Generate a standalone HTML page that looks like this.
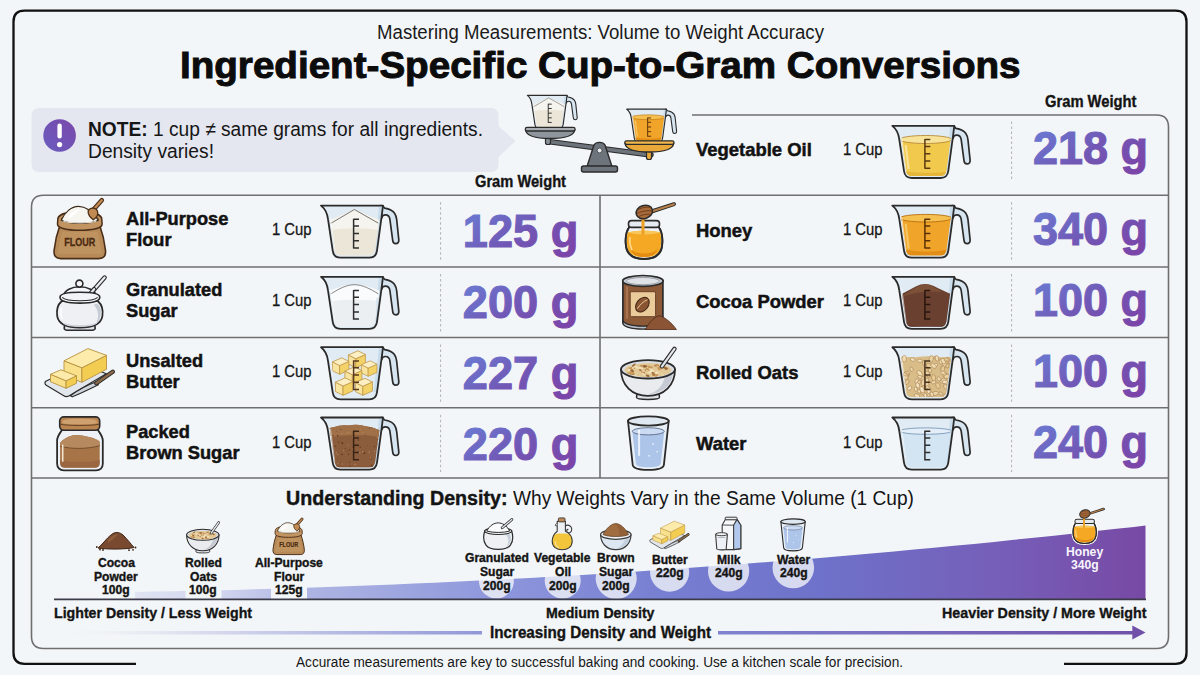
<!DOCTYPE html>
<html><head><meta charset="utf-8"><style>
html,body{margin:0;padding:0;}
body{width:1200px;height:675px;overflow:hidden;background:#f3f6f8;position:relative;font-family:"Liberation Sans",sans-serif;}
.abs{position:absolute;left:0;top:0;}
.t{position:absolute;white-space:nowrap;line-height:normal;transform-origin:0 0;}
</style></head><body>
<svg class="abs" width="1200" height="675" viewBox="0 0 1200 675">
<path d="M136 663.8 L24.5 663.8 Q13.5 663.8 13.5 652.8 L13.5 21.7 Q13.5 10.7 24.5 10.7 L1175.5 10.7 Q1186.5 10.7 1186.5 21.7 L1186.5 652.8 Q1186.5 663.8 1175.5 663.8 L1064 663.8" fill="none" stroke="#111" stroke-width="2.3"/>
<path d="M600 195.2 L43.5 195.2 Q31.5 195.2 31.5 207.2 L31.5 636.5 Q31.5 648.5 43.5 648.5 L1156.5 648.5 Q1168.5 648.5 1168.5 636.5 L1168.5 127 Q1168.5 115 1156.5 115 L692 115" fill="none" stroke="#6f6f6f" stroke-width="1.6"/>
<path d="M600 195.2 L1168.5 195.2 M31.5 267 L1168.5 267 M31.5 337.5 L1168.5 337.5 M31.5 407.8 L1168.5 407.8 M31.5 478 L1168.5 478 M600 195 L600 478" fill="none" stroke="#6f6f6f" stroke-width="1.6"/>
<g stroke="#b0b0b0" stroke-width="1" stroke-dasharray="2.5 2.5">
<path d="M1011.6 121.5 L1011.6 180"/>
<path d="M440.6 202.2 L440.6 261"/><path d="M1011.6 202.2 L1011.6 261"/><path d="M440.6 274 L440.6 331.5"/><path d="M1011.6 274 L1011.6 331.5"/><path d="M440.6 344.5 L440.6 401.8"/><path d="M1011.6 344.5 L1011.6 401.8"/><path d="M440.6 414.8 L440.6 472"/><path d="M1011.6 414.8 L1011.6 472"/>
</g>
</svg>
<svg class="abs" width="1200" height="675" viewBox="0 0 1200 675">
<defs><linearGradient id="ng" x1="0" y1="1" x2="1" y2="0"><stop offset="0" stop-color="#6a5cc0"/><stop offset="1" stop-color="#7a48aa"/></linearGradient></defs>
<path d="M39.5 108 L490.5 108 Q498.5 108 498.5 116 L498.5 126 L515.5 141 L498.5 157 L498.5 164 Q498.5 172 490.5 172 L39.5 172 Q31.5 172 31.5 164 L31.5 116 Q31.5 108 39.5 108 Z" fill="#e4e7f0"/>
<circle cx="59.6" cy="135.5" r="16.3" fill="url(#ng)"/>
<rect x="57.4" y="123.5" width="4.4" height="15" rx="2.2" fill="#fff"/>
<circle cx="59.6" cy="144.6" r="2.6" fill="#fff"/>
</svg>
<svg class="abs" width="1200" height="675" viewBox="0 0 1200 675"><path d="M548,141.5 L651,155" stroke="#2b2b2b" stroke-width="5.6" stroke-linecap="round"/><path d="M548,141.5 L651,155" stroke="#6e747c" stroke-width="3.4" stroke-linecap="round"/><rect x="545.5" y="136" width="5" height="8.5" rx="2" fill="#8a9098" stroke="#2b2b2b" stroke-width="1.2"/><rect x="646.5" y="150" width="5" height="9.5" rx="2" fill="#e8a838" stroke="#2b2b2b" stroke-width="1.2"/><path d="M594,145 C596,141.5 603,141.5 605,145 L612,166.5 L587,166.5 Z" fill="#6e747c" stroke="#2b2b2b" stroke-width="1.4" stroke-linejoin="round"/><rect x="581.5" y="166" width="36" height="6" rx="2" fill="#6e747c" stroke="#2b2b2b" stroke-width="1.4"/><circle cx="599.6" cy="150.5" r="2.4" fill="#e8ecf0" stroke="#333" stroke-width="0.7"/><g transform="translate(527.00,94.80) scale(0.64)"><defs><clipPath id="cc1"><path d="M3.2,2.4 L60.6,2.4 L59.2,12 L54.8,45.4 Q54,50.9 48.6,50.9 L20.4,50.9 Q15,50.9 14.2,45.4 L9.8,14.5 Q8.8,7 3.2,2.4 Z"/></clipPath></defs><path d="M60.5,1 L62.2,1.1 C63.2,1.4 63.3,3 64.3,3.4 C67.5,4 71.8,5.2 74,8.3 C75.6,10.6 76.1,13 76.3,15 L78.4,35.2 C78.6,37.6 77.3,38.9 75.4,38.9 C73.6,38.9 72.5,37.7 72.3,35.6 L69.5,14.6 C69.1,11.8 67.3,10.2 65,10.2 C62.8,10.2 61.6,11.8 61.3,13.3 Z" fill="#d6e5ef" stroke="#2b2b2b" stroke-width="1.7" stroke-linejoin="round"/><path d="M0.6,0.9 L62.6,0.9 L61.2,12 L56.6,46 Q55.6,53 49,53 L20,53 Q13.2,53 12.3,46 L7.6,14.5 Q6.6,5.5 0.6,0.9 Z" fill="#e0ebf3"/><path d="M62,2 L60.5,12 L56,46 L53,46 L57.5,12 L58.5,2 Z" fill="#c3d8e8" opacity="0.8"/><g clip-path="url(#cc1)"><path d="M0,60 L0,20 L34,4.5 L70,20 L70,60 Z" fill="#ebe6d8"/><path d="M0,20 L34,4.5 L70,20 L70,27 Q34,20 0,27 Z" fill="#f6f4ee"/><path d="M9,19.5 L34,4.8 L58,18.5" fill="none" stroke="#555" stroke-width="0.8"/><path d="M4,3 L10,14 L14,46" stroke="#ffffff" stroke-width="1.6" fill="none" opacity="0.55"/></g><path d="M33.2,14 L33.2,43.8 M33.2,14.6 L38.6,14.6 M33.2,21.4 L38.6,21.4 M33.2,28.7 L38.6,28.7 M33.2,36 L38.6,36 M33.2,43.2 L38.6,43.2" stroke="#2e2e2e" stroke-width="1.5" fill="none"/><path d="M0.6,0.9 L62.6,0.9 L61.2,12 L56.6,46 Q55.6,53 49,53 L20,53 Q13.2,53 12.3,46 L7.6,14.5 Q6.6,5.5 0.6,0.9 Z" fill="none" stroke="#2b2b2b" stroke-width="1.8" stroke-linejoin="round"/></g><g transform="translate(626.40,108.60) scale(0.64)"><defs><clipPath id="cc2"><path d="M3.2,2.4 L60.6,2.4 L59.2,12 L54.8,45.4 Q54,50.9 48.6,50.9 L20.4,50.9 Q15,50.9 14.2,45.4 L9.8,14.5 Q8.8,7 3.2,2.4 Z"/></clipPath></defs><path d="M60.5,1 L62.2,1.1 C63.2,1.4 63.3,3 64.3,3.4 C67.5,4 71.8,5.2 74,8.3 C75.6,10.6 76.1,13 76.3,15 L78.4,35.2 C78.6,37.6 77.3,38.9 75.4,38.9 C73.6,38.9 72.5,37.7 72.3,35.6 L69.5,14.6 C69.1,11.8 67.3,10.2 65,10.2 C62.8,10.2 61.6,11.8 61.3,13.3 Z" fill="#d6e5ef" stroke="#2b2b2b" stroke-width="1.7" stroke-linejoin="round"/><path d="M0.6,0.9 L62.6,0.9 L61.2,12 L56.6,46 Q55.6,53 49,53 L20,53 Q13.2,53 12.3,46 L7.6,14.5 Q6.6,5.5 0.6,0.9 Z" fill="#e0ebf3"/><path d="M62,2 L60.5,12 L56,46 L53,46 L57.5,12 L58.5,2 Z" fill="#c3d8e8" opacity="0.8"/><g clip-path="url(#cc2)"><path d="M0,60 L0,13 L70,13 L70,60 Z" fill="#f0a42a"/><ellipse cx="34" cy="13.5" rx="26" ry="3.8" fill="#f6c050" stroke="#b86e10" stroke-width="0.9"/><path d="M0,60 L0,42 Q34,52 70,42 L70,60 Z" fill="#de8812" opacity="0.8"/><path d="M14,19 L17,44" stroke="#f8cf70" stroke-width="2.2" opacity="0.8"/><path d="M4,3 L10,14 L14,46" stroke="#ffffff" stroke-width="1.6" fill="none" opacity="0.55"/></g><path d="M33.2,14 L33.2,43.8 M33.2,14.6 L38.6,14.6 M33.2,21.4 L38.6,21.4 M33.2,28.7 L38.6,28.7 M33.2,36 L38.6,36 M33.2,43.2 L38.6,43.2" stroke="#5a3008" stroke-width="1.5" fill="none"/><path d="M0.6,0.9 L62.6,0.9 L61.2,12 L56.6,46 Q55.6,53 49,53 L20,53 Q13.2,53 12.3,46 L7.6,14.5 Q6.6,5.5 0.6,0.9 Z" fill="none" stroke="#2b2b2b" stroke-width="1.8" stroke-linejoin="round"/></g><path d="M525.5,130 L574.8,130 C574,135 566,138.5 550,138.5 C534,138.5 526.3,135 525.5,130 Z" fill="#8f959d" stroke="#2b2b2b" stroke-width="1.4" stroke-linejoin="round"/><rect x="525.3" y="127.4" width="49.8" height="3.6" rx="1.8" fill="#a9aeb5" stroke="#2b2b2b" stroke-width="1.3"/><path d="M625,143.5 L673.7,143.5 C673,148.5 665,152 649.3,152 C633.6,152 625.8,148.5 625,143.5 Z" fill="#eaa838" stroke="#2b2b2b" stroke-width="1.4" stroke-linejoin="round"/><rect x="624.8" y="140.8" width="49.2" height="3.6" rx="1.8" fill="#f2b84c" stroke="#2b2b2b" stroke-width="1.3"/><g transform="translate(53.30,197.80) scale(1)"><path d="M6.5,28 C3.5,36 1.5,46 0.8,52.5 C0.3,58 2.5,60.8 7.5,60.8 L45.5,60.8 C50.5,60.8 52.7,58 52.2,52.5 C51.5,46 49.5,36 46.5,28 Z" fill="#b88a58" stroke="#4a2e18" stroke-width="1.6" stroke-linejoin="round"/><path d="M9,34 C7,42 5,50 4.5,56 L48.5,56 C48,50 46,42 44,34 Z" fill="#c49a68" opacity="0.55"/><path d="M4.5,21.5 C4.5,16.5 14,14 26.5,14 C39,14 48.5,16.5 48.5,21.5 L48.8,26.5 C48.8,30.5 39,32.5 26.5,32.5 C14,32.5 4.2,30.5 4.2,26.5 Z" fill="#c29462" stroke="#4a2e18" stroke-width="1.5" stroke-linejoin="round"/><ellipse cx="26.5" cy="21.2" rx="19" ry="4.6" fill="#7a5432"/><path d="M8,22.5 C11.5,14 18.5,8.5 25,8.5 C31.5,8.5 39,13 45,22.5 C38,26.5 15,26.5 8,22.5 Z" fill="#f7f5f0" stroke="#3a2a1a" stroke-width="1.2"/><path d="M15,19 C19,14 23,11.5 26,11.5 C24,15 20,18 15,21 Z" fill="#ffffff"/><path d="M10,23.5 C16,25.5 37,25.5 43,23.5" fill="none" stroke="#e2ddd0" stroke-width="1.2"/><path d="M48.5,2.5 L40.5,11.5" stroke="#4a2e18" stroke-width="4.6" stroke-linecap="round"/><path d="M48.5,2.5 L40.5,11.5" stroke="#c08a52" stroke-width="2.4" stroke-linecap="round"/><path d="M35,12.5 C37,10 40.5,9.5 43,11.5 C45,13.5 45,17 43,19.5 L40,22 C37,20 34,16 35,12.5 Z" fill="#c08a52" stroke="#4a2e18" stroke-width="1.3" stroke-linejoin="round"/><text x="26.5" y="47.8" font-family="Liberation Sans" font-weight="700" font-size="10.8" fill="#4a2a12" stroke="#4a2a12" stroke-width="0.3" text-anchor="middle" textLength="31" lengthAdjust="spacingAndGlyphs">FLOUR</text></g><g transform="translate(56.60,274.70) scale(1)"><path d="M48,2.8 L33,20" stroke="#2b2b2b" stroke-width="4.4" stroke-linecap="round"/><path d="M48,2.8 L33,20" stroke="#e9ecf0" stroke-width="2.2" stroke-linecap="round"/><path d="M8,50 L7.6,53.6 C7.6,55 10,55.6 12,55.6 L34,55.6 C36,55.6 38.6,55 38.6,53.6 L38.2,50 Z" fill="#dde1e8" stroke="#2b2b2b" stroke-width="1.6"/><path d="M5,26.5 C1,30 -0.2,36 0.6,41.5 C1.8,48.5 9,53 23.2,53 C37.4,53 44.6,48.5 45.8,41.5 C46.6,36 45.4,30 41.4,26.5 Z" fill="#eef0f4" stroke="#2b2b2b" stroke-width="1.8" stroke-linejoin="round"/><path d="M37,30 C42.5,35 43,44 38.5,50 C42.5,48 44.8,42 44,34 C43.6,31.5 42,29.5 40,29 Z" fill="#c6ccd6"/><path d="M5,47 C11,51.5 35,51.5 41.5,47 C39,51 34,52 23.2,52 C12.4,52 7.5,51 5,47 Z" fill="#cfd4dc"/><path d="M5,33 C4,37 4.2,41 5.5,44" stroke="#ffffff" stroke-width="1.6" fill="none" opacity="0.9"/><path d="M6.5,21.5 C8,15.5 15,12 23,12 C31,12 38.5,15.5 40,21.5 Z" fill="#f5f6f9" stroke="#2b2b2b" stroke-width="1.6"/><circle cx="22.8" cy="8.9" r="3.5" fill="#f5f6f9" stroke="#2b2b2b" stroke-width="1.6"/><path d="M32.5,20.5 L37.5,14.5" stroke="#2b2b2b" stroke-width="4.4" stroke-linecap="round"/><path d="M32.5,20.5 L37.5,14.5" stroke="#e9ecf0" stroke-width="2.2" stroke-linecap="round"/><path d="M3.4,22.5 C3.4,18.8 12,17.6 23.3,17.6 C34.6,17.6 43.2,18.8 43.2,22.5 C43.2,26.6 34.6,28.4 23.3,28.4 C12,28.4 3.4,26.6 3.4,22.5 Z" fill="#f3f4f7" stroke="#2b2b2b" stroke-width="1.6"/><path d="M5.6,22.6 C8,25 16,26 23.3,26 C30.6,26 38.6,25 41,22.6" fill="none" stroke="#2b2b2b" stroke-width="1.1"/></g><g transform="translate(44.30,347.80) scale(1)"><path d="M1.5,33.5 L38,16 L62,26 L25,48 C23,49 21,49 19.5,48 L2,37.5 C0.3,36.5 0.3,34.5 1.5,33.5 Z" fill="#e2e6ed" stroke="#2b2b2b" stroke-width="1.2" stroke-linejoin="round"/><path d="M26,48 C34,42 44,37 52,34 L54,37 C46,41 36,46 28,49 Z" fill="#cfd5dd" stroke="#2b2b2b" stroke-width="1.2" stroke-linejoin="round"/><path d="M52,35.5 L68.5,24" stroke="#2b2b2b" stroke-width="4.4" stroke-linecap="round"/><path d="M52,35.5 L68.5,24" stroke="#8a6a48" stroke-width="2.4" stroke-linecap="round"/><g stroke="#b8923e" stroke-width="0.9" stroke-linejoin="round"><path d="M19.7,13 L37.6,20 L37.6,34.5 L19.7,27.5 Z" fill="#f9e08a"/><path d="M37.6,20 L62.2,7.5 L62.2,21.5 L37.6,34.5 Z" fill="#f2cd52"/><path d="M19.7,13 L43.6,0.8 L62.2,7.5 L37.6,20 Z" fill="#fcebab"/></g><g stroke="#b8923e" stroke-width="0.9" stroke-linejoin="round"><path d="M6.2,26.5 L21.8,33 L21.8,40.5 L6.2,34 Z" fill="#f9e08a"/><path d="M21.8,33 L32.2,28 L32.2,35.5 L21.8,40.5 Z" fill="#f2cd52"/><path d="M6.2,26.5 L16.6,22 L32.2,28 L21.8,33 Z" fill="#fcebab"/></g></g><g transform="translate(57.10,415.70) scale(1)"><path d="M5,14 L40.7,14 C42.2,17 45.7,20 45.7,25 L45.7,48 C45.7,52 43,54.6 39,54.6 L6.7,54.6 C2.7,54.6 0,52 0,48 L0,25 C0,20 3.5,17 5,14 Z" fill="#eef2f6" stroke="#2b2b2b" stroke-width="1.8" stroke-linejoin="round"/><path d="M3,27 C6,23.5 10,21 16,19.5 C22,18.5 27,20 33,21.5 C37,22.5 41,24 42.6,26 L42.6,47.5 C42.6,50.5 40.6,52 37.6,52 L8,52 C5,52 3,50.5 3,47.5 Z" fill="#a77448"/><path d="M3,27 C6,23.5 10,21 16,19.5 C22,18.5 27,20 33,21.5 C37,22.5 41,24 42.6,26 L42.6,30 C30,33.5 14,33.5 3,30.5 Z" fill="#b68a5e"/><path d="M3,30.5 C14,33.5 30,33.5 42.6,30" fill="none" stroke="#6e4828" stroke-width="0.9"/><path d="M3,44 C14,47 32,47 42.6,44 L42.6,47.5 C42.6,50.5 40.6,52 37.6,52 L8,52 C5,52 3,50.5 3,47.5 Z" fill="#946240" opacity="0.7"/><path d="M5.6,29 L5.6,46" stroke="#fbf0dc" stroke-width="1.6" opacity="0.9"/><rect x="2.6" y="1.2" width="40" height="13.4" rx="4.2" fill="#b98450" stroke="#2b2b2b" stroke-width="1.6"/><path d="M5,6.5 C5,3.5 12,3 22.6,3 C33.2,3 40.2,3.5 40.2,6.5 C40.2,8.2 33,8.6 22.6,8.6 C12.2,8.6 5,8.2 5,6.5 Z" fill="#cfa070"/><path d="M3.2,8.5 C10,10.2 35,10.2 42,8.5" fill="none" stroke="#5a3a20" stroke-width="0.9"/></g><g transform="translate(624.50,202.00) scale(1)"><path d="M5.5,24 C1.5,29 0.5,37 1.5,44.5 C3,53 9,57 19.5,57 C30,57 36,53 37.5,44.5 C38.5,37 37.5,29 33.5,24 Z" fill="#eef1f5" stroke="#2b2b2b" stroke-width="1.8" stroke-linejoin="round"/><path d="M3,30.5 C12,28 27,28 36,30.5 C37,37 36.8,43 35.6,47.5 C33.5,53 27.5,55.2 19.5,55.2 C11.5,55.2 5.5,53 3.4,47.5 C2.2,43 2,37 3,30.5 Z" fill="#f4a823"/><path d="M3,30.5 C12,28 27,28 36,30.5 C27,33 12,33 3,30.5 Z" fill="#f9c65a"/><path d="M6,47 C11,53 28,53 33,47 C31.5,52.5 26,55 19.5,55 C13,55 7.5,52.5 6,47 Z" fill="#e0860e" opacity="0.85"/><path d="M5.5,35 C5,39 5.5,44 7.5,48" stroke="#fdd98a" stroke-width="1.6" fill="none"/><path d="M5.5,24 C1.5,29 0.5,37 1.5,44.5 C3,53 9,57 19.5,57 C30,57 36,53 37.5,44.5 C38.5,37 37.5,29 33.5,24 Z" fill="none" stroke="#2b2b2b" stroke-width="1.8" stroke-linejoin="round"/><rect x="4" y="18.6" width="31" height="6.8" rx="3" fill="#e4eaf0" stroke="#2b2b2b" stroke-width="1.6"/><path d="M27,9.5 L49.5,2.2" stroke="#2b2b2b" stroke-width="4" stroke-linecap="round"/><path d="M27,9.5 L49.5,2.2" stroke="#b8804a" stroke-width="2" stroke-linecap="round"/><path d="M18.5,14 L18.5,31.5" stroke="#eda024" stroke-width="3" stroke-linecap="round"/><ellipse cx="19.8" cy="10" rx="8.4" ry="6.5" transform="rotate(-18 19.8 10)" fill="#a86a3a" stroke="#2b2b2b" stroke-width="1.5"/><path d="M12.5,8.5 C15,6 22,4.5 26.5,5.5 M12,12 C15,9.5 23,8 27.5,9 M13.5,15 C16,13 23,11.5 26.5,12.5" stroke="#6a3e1e" stroke-width="1" fill="none"/></g><g transform="translate(621.90,274.70) scale(1)"><path d="M1,6 L1,47 C1,51 9,53.5 21,53.5 C33,53.5 41,51 41,47 L41,6 Z" fill="#8d5a38" stroke="#2b2b2b" stroke-width="1.7"/><path d="M1,45 C1,49 9,51.5 21,51.5 C33,51.5 41,49 41,45 L41,48 C41,52 33,54.5 21,54.5 C9,54.5 1,52 1,48 Z" fill="#b8bec6" stroke="#2b2b2b" stroke-width="1.3"/><path d="M5,12 L5,44" stroke="#a87450" stroke-width="2.2"/><ellipse cx="21" cy="6.2" rx="20.2" ry="5.4" fill="#c6cbd2" stroke="#2b2b2b" stroke-width="1.7"/><ellipse cx="21" cy="6.4" rx="16.5" ry="3.6" fill="#dfe2e7" stroke="#8a9098" stroke-width="0.8"/><rect x="8.3" y="17" width="25.4" height="25" rx="1.5" fill="#e9cc9a" stroke="#6a4028" stroke-width="1"/><ellipse cx="20.5" cy="30" rx="5.8" ry="8.2" transform="rotate(38 20.5 30)" fill="#8a5532" stroke="#3e2414" stroke-width="1"/><path d="M15.5,34 C18,30 21,27 25.5,25" stroke="#e9cc9a" stroke-width="1" fill="none"/><path d="M23.5,54.8 C26,50 31,42.5 37.2,41 C43,42 51,49.5 54.5,54.8 Z" fill="#8b5535" stroke="#4a2a18" stroke-width="0.8" stroke-linejoin="round"/></g><g transform="translate(620.00,346.30) scale(1)"><path d="M17,47 L16.5,51 C16.5,52.6 21,53.2 28,53.2 C35,53.2 39.5,52.6 39.5,51 L39,47 Z" fill="#dfe2e7" stroke="#2b2b2b" stroke-width="1.5"/><path d="M1,23 C1,39 12,49.5 28,49.5 C44,49.5 55,39 55,23 Z" fill="#e9ebef" stroke="#2b2b2b" stroke-width="1.8" stroke-linejoin="round"/><path d="M45,30 C43,40 37,46 28,48 C42,47.5 51,40 53,28 Z" fill="#c6cad3"/><ellipse cx="28" cy="23" rx="27" ry="9.2" fill="#d8dce3" stroke="#2b2b2b" stroke-width="1.8"/><ellipse cx="28" cy="23.8" rx="23.5" ry="7" fill="#e2c896"/><ellipse cx="32.9" cy="26.7" rx="1.4" ry="1.0" transform="rotate(35 32.9 26.7)" fill="#9a6a3a"/><ellipse cx="34.0" cy="28.4" rx="1.8" ry="1.2" transform="rotate(-10 34.0 28.4)" fill="#b07c45"/><ellipse cx="12.1" cy="21.2" rx="1.8" ry="0.9" transform="rotate(29 12.1 21.2)" fill="#f1e2bc"/><ellipse cx="23.6" cy="26.9" rx="1.5" ry="1.1" transform="rotate(-30 23.6 26.9)" fill="#b07c45"/><ellipse cx="16.4" cy="20.9" rx="2.3" ry="0.9" transform="rotate(37 16.4 20.9)" fill="#f1e2bc"/><ellipse cx="29.6" cy="26.0" rx="1.6" ry="1.3" transform="rotate(-24 29.6 26.0)" fill="#f1e2bc"/><ellipse cx="46.6" cy="22.7" rx="1.8" ry="0.9" transform="rotate(-28 46.6 22.7)" fill="#b07c45"/><ellipse cx="10.6" cy="21.8" rx="2.0" ry="1.1" transform="rotate(17 10.6 21.8)" fill="#9a6a3a"/><ellipse cx="10.6" cy="22.4" rx="1.9" ry="1.0" transform="rotate(-2 10.6 22.4)" fill="#c99a5e"/><ellipse cx="36.2" cy="19.1" rx="2.3" ry="1.0" transform="rotate(-8 36.2 19.1)" fill="#b07c45"/><ellipse cx="30.0" cy="23.1" rx="2.0" ry="0.8" transform="rotate(-36 30.0 23.1)" fill="#e8d09a"/><ellipse cx="15.2" cy="29.0" rx="1.5" ry="0.9" transform="rotate(26 15.2 29.0)" fill="#f1e2bc"/><ellipse cx="26.5" cy="24.1" rx="1.7" ry="1.0" transform="rotate(7 26.5 24.1)" fill="#9a6a3a"/><ellipse cx="39.2" cy="22.5" rx="1.4" ry="1.3" transform="rotate(-33 39.2 22.5)" fill="#c99a5e"/><ellipse cx="21.6" cy="25.2" rx="1.7" ry="1.3" transform="rotate(4 21.6 25.2)" fill="#f1e2bc"/><ellipse cx="20.5" cy="22.0" rx="2.2" ry="1.1" transform="rotate(18 20.5 22.0)" fill="#f1e2bc"/><ellipse cx="20.4" cy="23.8" rx="1.5" ry="1.1" transform="rotate(34 20.4 23.8)" fill="#b07c45"/><ellipse cx="9.3" cy="26.6" rx="2.2" ry="1.0" transform="rotate(-6 9.3 26.6)" fill="#c99a5e"/><ellipse cx="9.3" cy="23.9" rx="1.5" ry="1.2" transform="rotate(36 9.3 23.9)" fill="#f1e2bc"/><ellipse cx="33.2" cy="27.2" rx="1.6" ry="1.0" transform="rotate(-35 33.2 27.2)" fill="#b07c45"/><ellipse cx="24.8" cy="20.1" rx="2.3" ry="1.3" transform="rotate(-4 24.8 20.1)" fill="#9a6a3a"/><ellipse cx="27.5" cy="26.5" rx="1.7" ry="1.0" transform="rotate(32 27.5 26.5)" fill="#e8d09a"/><ellipse cx="12.5" cy="27.5" rx="2.4" ry="1.1" transform="rotate(-0 12.5 27.5)" fill="#9a6a3a"/><ellipse cx="21.5" cy="19.5" rx="1.9" ry="1.1" transform="rotate(0 21.5 19.5)" fill="#c99a5e"/><ellipse cx="10.5" cy="27.2" rx="2.1" ry="1.1" transform="rotate(21 10.5 27.2)" fill="#c99a5e"/><ellipse cx="22.5" cy="26.2" rx="2.2" ry="0.9" transform="rotate(38 22.5 26.2)" fill="#c99a5e"/><ellipse cx="36.6" cy="29.0" rx="2.0" ry="1.1" transform="rotate(-39 36.6 29.0)" fill="#c99a5e"/><ellipse cx="29.9" cy="21.3" rx="1.9" ry="1.2" transform="rotate(12 29.9 21.3)" fill="#c99a5e"/><ellipse cx="39.9" cy="22.3" rx="2.1" ry="1.2" transform="rotate(-12 39.9 22.3)" fill="#c99a5e"/><ellipse cx="41.7" cy="28.1" rx="2.4" ry="1.3" transform="rotate(1 41.7 28.1)" fill="#e8d09a"/><ellipse cx="29.2" cy="20.3" rx="2.3" ry="1.0" transform="rotate(15 29.2 20.3)" fill="#c99a5e"/><ellipse cx="36.8" cy="26.5" rx="2.0" ry="1.3" transform="rotate(1 36.8 26.5)" fill="#f1e2bc"/><ellipse cx="45.5" cy="21.8" rx="2.2" ry="1.1" transform="rotate(18 45.5 21.8)" fill="#9a6a3a"/><ellipse cx="9.1" cy="20.3" rx="2.0" ry="0.9" transform="rotate(21 9.1 20.3)" fill="#e8d09a"/><ellipse cx="15.2" cy="26.4" rx="2.4" ry="0.9" transform="rotate(31 15.2 26.4)" fill="#e8d09a"/><ellipse cx="27.3" cy="24.5" rx="1.9" ry="1.0" transform="rotate(9 27.3 24.5)" fill="#e8d09a"/><ellipse cx="31.6" cy="21.1" rx="1.4" ry="1.0" transform="rotate(-18 31.6 21.1)" fill="#c99a5e"/><ellipse cx="24.4" cy="19.8" rx="1.8" ry="0.8" transform="rotate(9 24.4 19.8)" fill="#9a6a3a"/><ellipse cx="11.8" cy="24.5" rx="2.4" ry="0.9" transform="rotate(-12 11.8 24.5)" fill="#c99a5e"/><ellipse cx="13.2" cy="23.0" rx="2.0" ry="1.0" transform="rotate(-29 13.2 23.0)" fill="#9a6a3a"/><ellipse cx="31.8" cy="24.7" rx="2.4" ry="1.1" transform="rotate(-12 31.8 24.7)" fill="#f1e2bc"/><ellipse cx="12.3" cy="24.7" rx="1.9" ry="1.0" transform="rotate(30 12.3 24.7)" fill="#9a6a3a"/><ellipse cx="30.6" cy="23.2" rx="1.9" ry="1.0" transform="rotate(17 30.6 23.2)" fill="#f1e2bc"/><ellipse cx="23.4" cy="27.9" rx="2.0" ry="0.9" transform="rotate(38 23.4 27.9)" fill="#f1e2bc"/><ellipse cx="27.9" cy="23.1" rx="2.3" ry="1.0" transform="rotate(34 27.9 23.1)" fill="#c99a5e"/><ellipse cx="13.7" cy="18.8" rx="2.4" ry="0.9" transform="rotate(-37 13.7 18.8)" fill="#9a6a3a"/><ellipse cx="13.5" cy="22.8" rx="1.9" ry="0.9" transform="rotate(35 13.5 22.8)" fill="#e8d09a"/><ellipse cx="39.3" cy="21.2" rx="2.2" ry="1.2" transform="rotate(-17 39.3 21.2)" fill="#c99a5e"/><ellipse cx="27.7" cy="29.4" rx="2.0" ry="1.1" transform="rotate(19 27.7 29.4)" fill="#9a6a3a"/><ellipse cx="12.7" cy="26.9" rx="1.7" ry="1.2" transform="rotate(9 12.7 26.9)" fill="#c99a5e"/><ellipse cx="37.3" cy="18.8" rx="1.8" ry="1.2" transform="rotate(7 37.3 18.8)" fill="#c99a5e"/><path d="M54.5,2.5 L42,20" stroke="#2b2b2b" stroke-width="4.4" stroke-linecap="round"/><path d="M54.5,2.5 L42,20" stroke="#e3e6ea" stroke-width="2.2" stroke-linecap="round"/></g><g transform="translate(627.10,415.80) scale(1)"><path d="M0.9,5.2 L5.6,49 C6,52.5 12,54 21.2,54 C30.4,54 36.4,52.5 36.8,49 L41.6,5.2 Z" fill="#e7eef5" stroke="#2b2b2b" stroke-width="1.8" stroke-linejoin="round"/><path d="M5.2,15.5 L8.8,48 C9,50.5 14,51.5 21.2,51.5 C28.4,51.5 33.4,50.5 33.6,48 L37.2,15.5 Z" fill="#aec5ea"/><ellipse cx="21.2" cy="15.5" rx="16" ry="3.6" fill="#cadbf3" stroke="#5a6a88" stroke-width="0.9"/><path d="M12,14 L12,40" stroke="#ffffff" stroke-width="2" opacity="0.75"/><circle cx="26" cy="28" r="0.9" fill="#fff" opacity="0.8"/><circle cx="30" cy="36" r="0.8" fill="#fff" opacity="0.8"/><circle cx="22" cy="40" r="0.9" fill="#fff" opacity="0.8"/><ellipse cx="21.2" cy="5.2" rx="20.4" ry="4.6" fill="#dfe8f0" stroke="#2b2b2b" stroke-width="1.8"/></g><g transform="translate(320.40,204.70) scale(1)"><defs><clipPath id="cc3"><path d="M3.2,2.4 L60.6,2.4 L59.2,12 L54.8,45.4 Q54,50.9 48.6,50.9 L20.4,50.9 Q15,50.9 14.2,45.4 L9.8,14.5 Q8.8,7 3.2,2.4 Z"/></clipPath></defs><path d="M60.5,1 L62.2,1.1 C63.2,1.4 63.3,3 64.3,3.4 C67.5,4 71.8,5.2 74,8.3 C75.6,10.6 76.1,13 76.3,15 L78.4,35.2 C78.6,37.6 77.3,38.9 75.4,38.9 C73.6,38.9 72.5,37.7 72.3,35.6 L69.5,14.6 C69.1,11.8 67.3,10.2 65,10.2 C62.8,10.2 61.6,11.8 61.3,13.3 Z" fill="#d6e5ef" stroke="#2b2b2b" stroke-width="1.7" stroke-linejoin="round"/><path d="M0.6,0.9 L62.6,0.9 L61.2,12 L56.6,46 Q55.6,53 49,53 L20,53 Q13.2,53 12.3,46 L7.6,14.5 Q6.6,5.5 0.6,0.9 Z" fill="#e0ebf3"/><path d="M62,2 L60.5,12 L56,46 L53,46 L57.5,12 L58.5,2 Z" fill="#c3d8e8" opacity="0.8"/><g clip-path="url(#cc3)"><path d="M0,60 L0,20 L34,4.5 L70,20 L70,60 Z" fill="#ebe6d8"/><path d="M0,20 L34,4.5 L70,20 L70,27 Q34,20 0,27 Z" fill="#f6f4ee"/><path d="M9,19.5 L34,4.8 L58,18.5" fill="none" stroke="#555" stroke-width="0.8"/><path d="M4,3 L10,14 L14,46" stroke="#ffffff" stroke-width="1.6" fill="none" opacity="0.55"/></g><path d="M33.2,14 L33.2,43.8 M33.2,14.6 L38.6,14.6 M33.2,21.4 L38.6,21.4 M33.2,28.7 L38.6,28.7 M33.2,36 L38.6,36 M33.2,43.2 L38.6,43.2" stroke="#2e2e2e" stroke-width="1.5" fill="none"/><path d="M0.6,0.9 L62.6,0.9 L61.2,12 L56.6,46 Q55.6,53 49,53 L20,53 Q13.2,53 12.3,46 L7.6,14.5 Q6.6,5.5 0.6,0.9 Z" fill="none" stroke="#2b2b2b" stroke-width="1.8" stroke-linejoin="round"/></g><g transform="translate(320.40,275.90) scale(1)"><defs><clipPath id="cc4"><path d="M3.2,2.4 L60.6,2.4 L59.2,12 L54.8,45.4 Q54,50.9 48.6,50.9 L20.4,50.9 Q15,50.9 14.2,45.4 L9.8,14.5 Q8.8,7 3.2,2.4 Z"/></clipPath></defs><path d="M60.5,1 L62.2,1.1 C63.2,1.4 63.3,3 64.3,3.4 C67.5,4 71.8,5.2 74,8.3 C75.6,10.6 76.1,13 76.3,15 L78.4,35.2 C78.6,37.6 77.3,38.9 75.4,38.9 C73.6,38.9 72.5,37.7 72.3,35.6 L69.5,14.6 C69.1,11.8 67.3,10.2 65,10.2 C62.8,10.2 61.6,11.8 61.3,13.3 Z" fill="#d6e5ef" stroke="#2b2b2b" stroke-width="1.7" stroke-linejoin="round"/><path d="M0.6,0.9 L62.6,0.9 L61.2,12 L56.6,46 Q55.6,53 49,53 L20,53 Q13.2,53 12.3,46 L7.6,14.5 Q6.6,5.5 0.6,0.9 Z" fill="#e0ebf3"/><path d="M62,2 L60.5,12 L56,46 L53,46 L57.5,12 L58.5,2 Z" fill="#c3d8e8" opacity="0.8"/><g clip-path="url(#cc4)"><path d="M0,60 L0,20 C14,12 24,8.5 34,8.5 C44,8.5 54,12 70,20 L70,60 Z" fill="#eceff2"/><path d="M0,20 C14,12 24,8.5 34,8.5 C44,8.5 54,12 70,20 L70,27 Q34,20 0,27 Z" fill="#fafbfc"/><path d="M9,19 C18,13 26,8.8 34,8.8 C42,8.8 50,13 58,18" fill="none" stroke="#666" stroke-width="0.8"/><path d="M58,22 L58,50" stroke="#c7d9e6" stroke-width="4" opacity="0.7"/><path d="M4,3 L10,14 L14,46" stroke="#ffffff" stroke-width="1.6" fill="none" opacity="0.55"/></g><path d="M33.2,14 L33.2,43.8 M33.2,14.6 L38.6,14.6 M33.2,21.4 L38.6,21.4 M33.2,28.7 L38.6,28.7 M33.2,36 L38.6,36 M33.2,43.2 L38.6,43.2" stroke="#2e2e2e" stroke-width="1.5" fill="none"/><path d="M0.6,0.9 L62.6,0.9 L61.2,12 L56.6,46 Q55.6,53 49,53 L20,53 Q13.2,53 12.3,46 L7.6,14.5 Q6.6,5.5 0.6,0.9 Z" fill="none" stroke="#2b2b2b" stroke-width="1.8" stroke-linejoin="round"/></g><g transform="translate(320.40,346.30) scale(1)"><defs><clipPath id="cc5"><path d="M3.2,2.4 L60.6,2.4 L59.2,12 L54.8,45.4 Q54,50.9 48.6,50.9 L20.4,50.9 Q15,50.9 14.2,45.4 L9.8,14.5 Q8.8,7 3.2,2.4 Z"/></clipPath></defs><path d="M60.5,1 L62.2,1.1 C63.2,1.4 63.3,3 64.3,3.4 C67.5,4 71.8,5.2 74,8.3 C75.6,10.6 76.1,13 76.3,15 L78.4,35.2 C78.6,37.6 77.3,38.9 75.4,38.9 C73.6,38.9 72.5,37.7 72.3,35.6 L69.5,14.6 C69.1,11.8 67.3,10.2 65,10.2 C62.8,10.2 61.6,11.8 61.3,13.3 Z" fill="#d6e5ef" stroke="#2b2b2b" stroke-width="1.7" stroke-linejoin="round"/><path d="M0.6,0.9 L62.6,0.9 L61.2,12 L56.6,46 Q55.6,53 49,53 L20,53 Q13.2,53 12.3,46 L7.6,14.5 Q6.6,5.5 0.6,0.9 Z" fill="#e0ebf3"/><path d="M62,2 L60.5,12 L56,46 L53,46 L57.5,12 L58.5,2 Z" fill="#c3d8e8" opacity="0.8"/><g clip-path="url(#cc5)"><g transform="translate(28,4.5) scale(1.062)" stroke="#c29a4c" stroke-width="0.8" stroke-linejoin="round"><path d="M0,4 L7,7.5 L7,16 L0,12.5 Z" fill="#f9e4a0"/><path d="M7,7.5 L16,3.5 L16,12 L7,16 Z" fill="#f3d368"/><path d="M0,4 L9,0 L16,3.5 L7,7.5 Z" fill="#fcefc4"/></g><g transform="translate(12,11.5) scale(1.031)" stroke="#c29a4c" stroke-width="0.8" stroke-linejoin="round"><path d="M0,4 L7,7.5 L7,16 L0,12.5 Z" fill="#f9e4a0"/><path d="M7,7.5 L16,3.5 L16,12 L7,16 Z" fill="#f3d368"/><path d="M0,4 L9,0 L16,3.5 L7,7.5 Z" fill="#fcefc4"/></g><g transform="translate(41,14.5) scale(0.969)" stroke="#c29a4c" stroke-width="0.8" stroke-linejoin="round"><path d="M0,4 L7,7.5 L7,16 L0,12.5 Z" fill="#f9e4a0"/><path d="M7,7.5 L16,3.5 L16,12 L7,16 Z" fill="#f3d368"/><path d="M0,4 L9,0 L16,3.5 L7,7.5 Z" fill="#fcefc4"/></g><g transform="translate(24.5,20.5) scale(1.062)" stroke="#c29a4c" stroke-width="0.8" stroke-linejoin="round"><path d="M0,4 L7,7.5 L7,16 L0,12.5 Z" fill="#f9e4a0"/><path d="M7,7.5 L16,3.5 L16,12 L7,16 Z" fill="#f3d368"/><path d="M0,4 L9,0 L16,3.5 L7,7.5 Z" fill="#fcefc4"/></g><g transform="translate(15,31.5) scale(1.094)" stroke="#c29a4c" stroke-width="0.8" stroke-linejoin="round"><path d="M0,4 L7,7.5 L7,16 L0,12.5 Z" fill="#f9e4a0"/><path d="M7,7.5 L16,3.5 L16,12 L7,16 Z" fill="#f3d368"/><path d="M0,4 L9,0 L16,3.5 L7,7.5 Z" fill="#fcefc4"/></g><g transform="translate(35,32) scale(1.062)" stroke="#c29a4c" stroke-width="0.8" stroke-linejoin="round"><path d="M0,4 L7,7.5 L7,16 L0,12.5 Z" fill="#f9e4a0"/><path d="M7,7.5 L16,3.5 L16,12 L7,16 Z" fill="#f3d368"/><path d="M0,4 L9,0 L16,3.5 L7,7.5 Z" fill="#fcefc4"/></g><path d="M4,3 L10,14 L14,46" stroke="#ffffff" stroke-width="1.6" fill="none" opacity="0.55"/></g><path d="M33.2,14 L33.2,43.8 M33.2,14.6 L38.6,14.6 M33.2,21.4 L38.6,21.4 M33.2,28.7 L38.6,28.7 M33.2,36 L38.6,36 M33.2,43.2 L38.6,43.2" stroke="#5a3a1e" stroke-width="1.5" fill="none"/><path d="M0.6,0.9 L62.6,0.9 L61.2,12 L56.6,46 Q55.6,53 49,53 L20,53 Q13.2,53 12.3,46 L7.6,14.5 Q6.6,5.5 0.6,0.9 Z" fill="none" stroke="#2b2b2b" stroke-width="1.8" stroke-linejoin="round"/></g><g transform="translate(320.40,416.60) scale(1)"><defs><clipPath id="cc6"><path d="M3.2,2.4 L60.6,2.4 L59.2,12 L54.8,45.4 Q54,50.9 48.6,50.9 L20.4,50.9 Q15,50.9 14.2,45.4 L9.8,14.5 Q8.8,7 3.2,2.4 Z"/></clipPath></defs><path d="M60.5,1 L62.2,1.1 C63.2,1.4 63.3,3 64.3,3.4 C67.5,4 71.8,5.2 74,8.3 C75.6,10.6 76.1,13 76.3,15 L78.4,35.2 C78.6,37.6 77.3,38.9 75.4,38.9 C73.6,38.9 72.5,37.7 72.3,35.6 L69.5,14.6 C69.1,11.8 67.3,10.2 65,10.2 C62.8,10.2 61.6,11.8 61.3,13.3 Z" fill="#d6e5ef" stroke="#2b2b2b" stroke-width="1.7" stroke-linejoin="round"/><path d="M0.6,0.9 L62.6,0.9 L61.2,12 L56.6,46 Q55.6,53 49,53 L20,53 Q13.2,53 12.3,46 L7.6,14.5 Q6.6,5.5 0.6,0.9 Z" fill="#e0ebf3"/><path d="M62,2 L60.5,12 L56,46 L53,46 L57.5,12 L58.5,2 Z" fill="#c3d8e8" opacity="0.8"/><g clip-path="url(#cc6)"><path d="M0,60 L0,16 Q8,11 14,10.5 Q20,8 28,9 Q36,7 44,9.5 Q52,10 60,14 L70,16 L70,60 Z" fill="#8c5d3c"/><path d="M0,16 Q8,11 14,10.5 Q20,8 28,9 Q36,7 44,9.5 Q52,10 60,14 L70,16 L70,22 Q36,15 0,22 Z" fill="#a07048"/><circle cx="17.4" cy="37.9" r="0.7" fill="#b8885a"/><circle cx="52.0" cy="49.6" r="0.6" fill="#5e3a20"/><circle cx="34.8" cy="20.2" r="0.4" fill="#b8885a"/><circle cx="56.6" cy="27.7" r="0.5" fill="#5e3a20"/><circle cx="56.0" cy="38.1" r="0.6" fill="#b8885a"/><circle cx="40.4" cy="12.3" r="0.5" fill="#b8885a"/><circle cx="44.4" cy="36.3" r="0.8" fill="#5e3a20"/><circle cx="16.9" cy="42.9" r="0.4" fill="#5e3a20"/><circle cx="32.1" cy="32.5" r="0.5" fill="#b8885a"/><circle cx="16.7" cy="36.9" r="0.6" fill="#5e3a20"/><circle cx="12.8" cy="18.7" r="0.7" fill="#5e3a20"/><circle cx="15.2" cy="29.6" r="0.7" fill="#5e3a20"/><circle cx="26.4" cy="16.7" r="0.6" fill="#b8885a"/><circle cx="27.6" cy="28.6" r="0.6" fill="#b8885a"/><circle cx="28.7" cy="12.0" r="0.4" fill="#b8885a"/><circle cx="9.1" cy="13.7" r="0.6" fill="#5e3a20"/><circle cx="38.1" cy="23.4" r="0.8" fill="#5e3a20"/><circle cx="18.2" cy="17.6" r="0.5" fill="#b8885a"/><circle cx="26.7" cy="34.3" r="0.5" fill="#5e3a20"/><circle cx="17.6" cy="47.0" r="0.5" fill="#b8885a"/><circle cx="28.1" cy="37.7" r="0.7" fill="#5e3a20"/><circle cx="29.8" cy="49.6" r="0.8" fill="#5e3a20"/><circle cx="54.0" cy="30.1" r="0.6" fill="#5e3a20"/><circle cx="56.8" cy="20.6" r="0.6" fill="#b8885a"/><circle cx="50.1" cy="41.2" r="0.6" fill="#b8885a"/><circle cx="11.7" cy="21.1" r="0.5" fill="#b8885a"/><circle cx="21.7" cy="26.4" r="0.7" fill="#5e3a20"/><circle cx="59.2" cy="40.1" r="0.6" fill="#b8885a"/><circle cx="16.1" cy="36.4" r="0.8" fill="#b8885a"/><circle cx="10.4" cy="19.3" r="0.7" fill="#5e3a20"/><circle cx="54.0" cy="34.5" r="0.6" fill="#b8885a"/><circle cx="24.7" cy="31.8" r="0.5" fill="#5e3a20"/><circle cx="28.5" cy="15.9" r="0.7" fill="#b8885a"/><circle cx="39.3" cy="36.1" r="0.7" fill="#b8885a"/><circle cx="22.1" cy="26.8" r="0.8" fill="#5e3a20"/><circle cx="15.8" cy="14.7" r="0.4" fill="#5e3a20"/><circle cx="41.7" cy="41.7" r="0.4" fill="#5e3a20"/><circle cx="42.4" cy="15.9" r="0.6" fill="#b8885a"/><circle cx="29.2" cy="45.6" r="0.6" fill="#5e3a20"/><circle cx="18.4" cy="25.7" r="0.7" fill="#5e3a20"/><circle cx="39.8" cy="30.7" r="0.7" fill="#5e3a20"/><circle cx="49.3" cy="11.3" r="0.6" fill="#5e3a20"/><circle cx="29.3" cy="33.1" r="0.7" fill="#5e3a20"/><circle cx="21.9" cy="38.2" r="0.5" fill="#5e3a20"/><circle cx="21.5" cy="17.1" r="0.7" fill="#b8885a"/><circle cx="50.7" cy="42.3" r="0.6" fill="#5e3a20"/><circle cx="36.8" cy="13.3" r="0.6" fill="#b8885a"/><circle cx="58.3" cy="23.1" r="0.7" fill="#5e3a20"/><circle cx="12.2" cy="42.8" r="0.8" fill="#b8885a"/><circle cx="12.3" cy="36.7" r="0.6" fill="#5e3a20"/><circle cx="42.2" cy="35.4" r="0.7" fill="#b8885a"/><circle cx="34.8" cy="47.9" r="0.7" fill="#b8885a"/><circle cx="33.0" cy="31.0" r="0.8" fill="#5e3a20"/><circle cx="20.5" cy="12.9" r="0.6" fill="#5e3a20"/><circle cx="23.1" cy="34.0" r="0.6" fill="#b8885a"/><circle cx="32.3" cy="20.2" r="0.6" fill="#b8885a"/><circle cx="20.6" cy="46.7" r="0.7" fill="#5e3a20"/><circle cx="33.5" cy="30.2" r="0.7" fill="#5e3a20"/><circle cx="48.8" cy="35.4" r="0.7" fill="#b8885a"/><circle cx="21.5" cy="46.8" r="0.6" fill="#b8885a"/><circle cx="51.1" cy="48.6" r="0.8" fill="#5e3a20"/><circle cx="17.3" cy="18.9" r="0.8" fill="#5e3a20"/><circle cx="13.6" cy="17.8" r="0.6" fill="#b8885a"/><circle cx="46.9" cy="29.0" r="0.4" fill="#5e3a20"/><circle cx="44.9" cy="19.0" r="0.5" fill="#5e3a20"/><circle cx="22.3" cy="48.1" r="0.5" fill="#b8885a"/><circle cx="57.2" cy="48.7" r="0.8" fill="#5e3a20"/><circle cx="21.2" cy="37.8" r="0.7" fill="#5e3a20"/><circle cx="57.0" cy="29.2" r="0.6" fill="#b8885a"/><circle cx="43.1" cy="37.0" r="0.6" fill="#5e3a20"/><path d="M0,60 L0,45 Q36,55 70,45 L70,60 Z" fill="#7f5232" opacity="0.7"/><path d="M4,3 L10,14 L14,46" stroke="#ffffff" stroke-width="1.6" fill="none" opacity="0.55"/></g><path d="M33.2,14 L33.2,43.8 M33.2,14.6 L38.6,14.6 M33.2,21.4 L38.6,21.4 M33.2,28.7 L38.6,28.7 M33.2,36 L38.6,36 M33.2,43.2 L38.6,43.2" stroke="#3a2416" stroke-width="1.5" fill="none"/><path d="M0.6,0.9 L62.6,0.9 L61.2,12 L56.6,46 Q55.6,53 49,53 L20,53 Q13.2,53 12.3,46 L7.6,14.5 Q6.6,5.5 0.6,0.9 Z" fill="none" stroke="#2b2b2b" stroke-width="1.8" stroke-linejoin="round"/></g><g transform="translate(891.70,125.00) scale(1)"><defs><clipPath id="cc7"><path d="M3.2,2.4 L60.6,2.4 L59.2,12 L54.8,45.4 Q54,50.9 48.6,50.9 L20.4,50.9 Q15,50.9 14.2,45.4 L9.8,14.5 Q8.8,7 3.2,2.4 Z"/></clipPath></defs><path d="M60.5,1 L62.2,1.1 C63.2,1.4 63.3,3 64.3,3.4 C67.5,4 71.8,5.2 74,8.3 C75.6,10.6 76.1,13 76.3,15 L78.4,35.2 C78.6,37.6 77.3,38.9 75.4,38.9 C73.6,38.9 72.5,37.7 72.3,35.6 L69.5,14.6 C69.1,11.8 67.3,10.2 65,10.2 C62.8,10.2 61.6,11.8 61.3,13.3 Z" fill="#d6e5ef" stroke="#2b2b2b" stroke-width="1.7" stroke-linejoin="round"/><path d="M0.6,0.9 L62.6,0.9 L61.2,12 L56.6,46 Q55.6,53 49,53 L20,53 Q13.2,53 12.3,46 L7.6,14.5 Q6.6,5.5 0.6,0.9 Z" fill="#e0ebf3"/><path d="M62,2 L60.5,12 L56,46 L53,46 L57.5,12 L58.5,2 Z" fill="#c3d8e8" opacity="0.8"/><g clip-path="url(#cc7)"><path d="M0,60 L0,14 L70,14 L70,60 Z" fill="#f1c94c"/><ellipse cx="34" cy="14.5" rx="26" ry="4" fill="#f8e39a" stroke="#b88a3a" stroke-width="0.9"/><path d="M0,60 L0,44 Q34,52 70,44 L70,60 Z" fill="#e3b236" opacity="0.8"/><path d="M14,20 L17,44" stroke="#fae7a8" stroke-width="2.2" opacity="0.8"/><path d="M4,3 L10,14 L14,46" stroke="#ffffff" stroke-width="1.6" fill="none" opacity="0.55"/></g><path d="M33.2,14 L33.2,43.8 M33.2,14.6 L38.6,14.6 M33.2,21.4 L38.6,21.4 M33.2,28.7 L38.6,28.7 M33.2,36 L38.6,36 M33.2,43.2 L38.6,43.2" stroke="#5a3a14" stroke-width="1.5" fill="none"/><path d="M0.6,0.9 L62.6,0.9 L61.2,12 L56.6,46 Q55.6,53 49,53 L20,53 Q13.2,53 12.3,46 L7.6,14.5 Q6.6,5.5 0.6,0.9 Z" fill="none" stroke="#2b2b2b" stroke-width="1.8" stroke-linejoin="round"/></g><g transform="translate(891.70,204.70) scale(1)"><defs><clipPath id="cc8"><path d="M3.2,2.4 L60.6,2.4 L59.2,12 L54.8,45.4 Q54,50.9 48.6,50.9 L20.4,50.9 Q15,50.9 14.2,45.4 L9.8,14.5 Q8.8,7 3.2,2.4 Z"/></clipPath></defs><path d="M60.5,1 L62.2,1.1 C63.2,1.4 63.3,3 64.3,3.4 C67.5,4 71.8,5.2 74,8.3 C75.6,10.6 76.1,13 76.3,15 L78.4,35.2 C78.6,37.6 77.3,38.9 75.4,38.9 C73.6,38.9 72.5,37.7 72.3,35.6 L69.5,14.6 C69.1,11.8 67.3,10.2 65,10.2 C62.8,10.2 61.6,11.8 61.3,13.3 Z" fill="#d6e5ef" stroke="#2b2b2b" stroke-width="1.7" stroke-linejoin="round"/><path d="M0.6,0.9 L62.6,0.9 L61.2,12 L56.6,46 Q55.6,53 49,53 L20,53 Q13.2,53 12.3,46 L7.6,14.5 Q6.6,5.5 0.6,0.9 Z" fill="#e0ebf3"/><path d="M62,2 L60.5,12 L56,46 L53,46 L57.5,12 L58.5,2 Z" fill="#c3d8e8" opacity="0.8"/><g clip-path="url(#cc8)"><path d="M0,60 L0,13 L70,13 L70,60 Z" fill="#f0a42a"/><ellipse cx="34" cy="13.5" rx="26" ry="3.8" fill="#f6c050" stroke="#b86e10" stroke-width="0.9"/><path d="M0,60 L0,42 Q34,52 70,42 L70,60 Z" fill="#de8812" opacity="0.8"/><path d="M14,19 L17,44" stroke="#f8cf70" stroke-width="2.2" opacity="0.8"/><path d="M4,3 L10,14 L14,46" stroke="#ffffff" stroke-width="1.6" fill="none" opacity="0.55"/></g><path d="M33.2,14 L33.2,43.8 M33.2,14.6 L38.6,14.6 M33.2,21.4 L38.6,21.4 M33.2,28.7 L38.6,28.7 M33.2,36 L38.6,36 M33.2,43.2 L38.6,43.2" stroke="#5a3008" stroke-width="1.5" fill="none"/><path d="M0.6,0.9 L62.6,0.9 L61.2,12 L56.6,46 Q55.6,53 49,53 L20,53 Q13.2,53 12.3,46 L7.6,14.5 Q6.6,5.5 0.6,0.9 Z" fill="none" stroke="#2b2b2b" stroke-width="1.8" stroke-linejoin="round"/></g><g transform="translate(891.70,275.90) scale(1)"><defs><clipPath id="cc9"><path d="M3.2,2.4 L60.6,2.4 L59.2,12 L54.8,45.4 Q54,50.9 48.6,50.9 L20.4,50.9 Q15,50.9 14.2,45.4 L9.8,14.5 Q8.8,7 3.2,2.4 Z"/></clipPath></defs><path d="M60.5,1 L62.2,1.1 C63.2,1.4 63.3,3 64.3,3.4 C67.5,4 71.8,5.2 74,8.3 C75.6,10.6 76.1,13 76.3,15 L78.4,35.2 C78.6,37.6 77.3,38.9 75.4,38.9 C73.6,38.9 72.5,37.7 72.3,35.6 L69.5,14.6 C69.1,11.8 67.3,10.2 65,10.2 C62.8,10.2 61.6,11.8 61.3,13.3 Z" fill="#d6e5ef" stroke="#2b2b2b" stroke-width="1.7" stroke-linejoin="round"/><path d="M0.6,0.9 L62.6,0.9 L61.2,12 L56.6,46 Q55.6,53 49,53 L20,53 Q13.2,53 12.3,46 L7.6,14.5 Q6.6,5.5 0.6,0.9 Z" fill="#e0ebf3"/><path d="M62,2 L60.5,12 L56,46 L53,46 L57.5,12 L58.5,2 Z" fill="#c3d8e8" opacity="0.8"/><g clip-path="url(#cc9)"><path d="M0,60 L0,23 Q14,16 24,10.5 Q33,6 42,10 Q52,15 70,23 L70,60 Z" fill="#6a4030"/><path d="M10,21 Q18,15 26,10.5 Q33,7 40,10 Q46,13 50,16 Q30,14 10,21 Z" fill="#7d5038"/><path d="M0,60 L0,46 Q36,55 70,46 L70,60 Z" fill="#4e2c1c" opacity="0.6"/><path d="M4,3 L10,14 L14,46" stroke="#ffffff" stroke-width="1.6" fill="none" opacity="0.55"/></g><path d="M33.2,14 L33.2,43.8 M33.2,14.6 L38.6,14.6 M33.2,21.4 L38.6,21.4 M33.2,28.7 L38.6,28.7 M33.2,36 L38.6,36 M33.2,43.2 L38.6,43.2" stroke="#2a160c" stroke-width="1.5" fill="none"/><path d="M0.6,0.9 L62.6,0.9 L61.2,12 L56.6,46 Q55.6,53 49,53 L20,53 Q13.2,53 12.3,46 L7.6,14.5 Q6.6,5.5 0.6,0.9 Z" fill="none" stroke="#2b2b2b" stroke-width="1.8" stroke-linejoin="round"/></g><g transform="translate(891.70,346.30) scale(1)"><defs><clipPath id="cc10"><path d="M3.2,2.4 L60.6,2.4 L59.2,12 L54.8,45.4 Q54,50.9 48.6,50.9 L20.4,50.9 Q15,50.9 14.2,45.4 L9.8,14.5 Q8.8,7 3.2,2.4 Z"/></clipPath></defs><path d="M60.5,1 L62.2,1.1 C63.2,1.4 63.3,3 64.3,3.4 C67.5,4 71.8,5.2 74,8.3 C75.6,10.6 76.1,13 76.3,15 L78.4,35.2 C78.6,37.6 77.3,38.9 75.4,38.9 C73.6,38.9 72.5,37.7 72.3,35.6 L69.5,14.6 C69.1,11.8 67.3,10.2 65,10.2 C62.8,10.2 61.6,11.8 61.3,13.3 Z" fill="#d6e5ef" stroke="#2b2b2b" stroke-width="1.7" stroke-linejoin="round"/><path d="M0.6,0.9 L62.6,0.9 L61.2,12 L56.6,46 Q55.6,53 49,53 L20,53 Q13.2,53 12.3,46 L7.6,14.5 Q6.6,5.5 0.6,0.9 Z" fill="#e0ebf3"/><path d="M62,2 L60.5,12 L56,46 L53,46 L57.5,12 L58.5,2 Z" fill="#c3d8e8" opacity="0.8"/><g clip-path="url(#cc10)"><path d="M0,60 L0,13 Q12,10 24,11 Q36,9 48,11 Q58,10 70,13 L70,60 Z" fill="#d9bd88"/><ellipse cx="31.5" cy="33.6" rx="3.3" ry="2.1" transform="rotate(81 31.5 33.6)" fill="#ead4a6" stroke="#a98050" stroke-width="0.55"/><ellipse cx="52.5" cy="19.0" rx="3.2" ry="2.0" transform="rotate(113 52.5 19.0)" fill="#ead4a6" stroke="#a98050" stroke-width="0.55"/><ellipse cx="49.2" cy="15.2" rx="2.6" ry="1.6" transform="rotate(97 49.2 15.2)" fill="#efdcb2" stroke="#a98050" stroke-width="0.55"/><ellipse cx="54.3" cy="36.6" rx="2.9" ry="1.8" transform="rotate(174 54.3 36.6)" fill="#ead4a6" stroke="#a98050" stroke-width="0.55"/><ellipse cx="42.0" cy="35.8" rx="2.4" ry="1.5" transform="rotate(150 42.0 35.8)" fill="#efdcb2" stroke="#a98050" stroke-width="0.55"/><ellipse cx="11.3" cy="12.9" rx="3.3" ry="2.0" transform="rotate(140 11.3 12.9)" fill="#efdcb2" stroke="#a98050" stroke-width="0.55"/><ellipse cx="25.0" cy="34.8" rx="2.4" ry="1.5" transform="rotate(115 25.0 34.8)" fill="#f3e4c2" stroke="#a98050" stroke-width="0.55"/><ellipse cx="34.0" cy="37.7" rx="2.7" ry="1.7" transform="rotate(73 34.0 37.7)" fill="#e6cc98" stroke="#a98050" stroke-width="0.55"/><ellipse cx="36.7" cy="48.3" rx="2.3" ry="1.4" transform="rotate(57 36.7 48.3)" fill="#e6cc98" stroke="#a98050" stroke-width="0.55"/><ellipse cx="19.9" cy="22.9" rx="2.3" ry="1.4" transform="rotate(72 19.9 22.9)" fill="#efdcb2" stroke="#a98050" stroke-width="0.55"/><ellipse cx="52.0" cy="26.8" rx="3.3" ry="2.1" transform="rotate(38 52.0 26.8)" fill="#efdcb2" stroke="#a98050" stroke-width="0.55"/><ellipse cx="56.2" cy="13.6" rx="2.7" ry="1.6" transform="rotate(76 56.2 13.6)" fill="#ead4a6" stroke="#a98050" stroke-width="0.55"/><ellipse cx="37.4" cy="19.3" rx="3.0" ry="1.9" transform="rotate(16 37.4 19.3)" fill="#e6cc98" stroke="#a98050" stroke-width="0.55"/><ellipse cx="25.3" cy="49.6" rx="3.1" ry="1.9" transform="rotate(24 25.3 49.6)" fill="#efdcb2" stroke="#a98050" stroke-width="0.55"/><ellipse cx="44.8" cy="11.9" rx="2.8" ry="1.7" transform="rotate(32 44.8 11.9)" fill="#ead4a6" stroke="#a98050" stroke-width="0.55"/><ellipse cx="37.1" cy="29.2" rx="2.4" ry="1.5" transform="rotate(75 37.1 29.2)" fill="#f3e4c2" stroke="#a98050" stroke-width="0.55"/><ellipse cx="28.0" cy="27.1" rx="3.4" ry="2.1" transform="rotate(49 28.0 27.1)" fill="#efdcb2" stroke="#a98050" stroke-width="0.55"/><ellipse cx="58.5" cy="43.2" rx="2.6" ry="1.6" transform="rotate(38 58.5 43.2)" fill="#efdcb2" stroke="#a98050" stroke-width="0.55"/><ellipse cx="28.5" cy="45.2" rx="3.0" ry="1.8" transform="rotate(8 28.5 45.2)" fill="#efdcb2" stroke="#a98050" stroke-width="0.55"/><ellipse cx="15.6" cy="28.9" rx="2.2" ry="1.4" transform="rotate(149 15.6 28.9)" fill="#e6cc98" stroke="#a98050" stroke-width="0.55"/><ellipse cx="28.1" cy="14.4" rx="2.5" ry="1.5" transform="rotate(3 28.1 14.4)" fill="#f3e4c2" stroke="#a98050" stroke-width="0.55"/><ellipse cx="27.2" cy="36.1" rx="2.4" ry="1.5" transform="rotate(150 27.2 36.1)" fill="#ead4a6" stroke="#a98050" stroke-width="0.55"/><ellipse cx="15.1" cy="26.8" rx="3.0" ry="1.8" transform="rotate(164 15.1 26.8)" fill="#e6cc98" stroke="#a98050" stroke-width="0.55"/><ellipse cx="50.5" cy="21.4" rx="2.4" ry="1.5" transform="rotate(124 50.5 21.4)" fill="#f3e4c2" stroke="#a98050" stroke-width="0.55"/><ellipse cx="28.2" cy="30.6" rx="2.3" ry="1.4" transform="rotate(19 28.2 30.6)" fill="#efdcb2" stroke="#a98050" stroke-width="0.55"/><ellipse cx="10.0" cy="49.5" rx="2.5" ry="1.5" transform="rotate(46 10.0 49.5)" fill="#ead4a6" stroke="#a98050" stroke-width="0.55"/><ellipse cx="50.8" cy="35.1" rx="2.6" ry="1.6" transform="rotate(167 50.8 35.1)" fill="#f3e4c2" stroke="#a98050" stroke-width="0.55"/><ellipse cx="58.8" cy="16.5" rx="2.8" ry="1.7" transform="rotate(50 58.8 16.5)" fill="#efdcb2" stroke="#a98050" stroke-width="0.55"/><ellipse cx="55.7" cy="19.6" rx="2.2" ry="1.4" transform="rotate(74 55.7 19.6)" fill="#e6cc98" stroke="#a98050" stroke-width="0.55"/><ellipse cx="21.0" cy="13.3" rx="2.5" ry="1.6" transform="rotate(17 21.0 13.3)" fill="#f3e4c2" stroke="#a98050" stroke-width="0.55"/><ellipse cx="15.2" cy="29.3" rx="2.6" ry="1.6" transform="rotate(106 15.2 29.3)" fill="#f3e4c2" stroke="#a98050" stroke-width="0.55"/><ellipse cx="56.0" cy="30.3" rx="2.6" ry="1.6" transform="rotate(173 56.0 30.3)" fill="#e6cc98" stroke="#a98050" stroke-width="0.55"/><ellipse cx="9.1" cy="36.6" rx="2.8" ry="1.7" transform="rotate(57 9.1 36.6)" fill="#e6cc98" stroke="#a98050" stroke-width="0.55"/><ellipse cx="60.0" cy="14.5" rx="2.9" ry="1.8" transform="rotate(162 60.0 14.5)" fill="#efdcb2" stroke="#a98050" stroke-width="0.55"/><ellipse cx="46.3" cy="39.3" rx="3.2" ry="2.0" transform="rotate(63 46.3 39.3)" fill="#e6cc98" stroke="#a98050" stroke-width="0.55"/><ellipse cx="43.6" cy="47.1" rx="3.2" ry="2.0" transform="rotate(170 43.6 47.1)" fill="#ead4a6" stroke="#a98050" stroke-width="0.55"/><ellipse cx="9.6" cy="31.2" rx="2.2" ry="1.4" transform="rotate(68 9.6 31.2)" fill="#ead4a6" stroke="#a98050" stroke-width="0.55"/><ellipse cx="8.6" cy="14.4" rx="2.3" ry="1.4" transform="rotate(179 8.6 14.4)" fill="#efdcb2" stroke="#a98050" stroke-width="0.55"/><ellipse cx="53.7" cy="40.3" rx="2.7" ry="1.7" transform="rotate(79 53.7 40.3)" fill="#ead4a6" stroke="#a98050" stroke-width="0.55"/><ellipse cx="51.6" cy="14.8" rx="3.1" ry="1.9" transform="rotate(56 51.6 14.8)" fill="#efdcb2" stroke="#a98050" stroke-width="0.55"/><ellipse cx="12.6" cy="12.4" rx="3.3" ry="2.1" transform="rotate(90 12.6 12.4)" fill="#efdcb2" stroke="#a98050" stroke-width="0.55"/><ellipse cx="40.0" cy="47.9" rx="2.5" ry="1.6" transform="rotate(66 40.0 47.9)" fill="#efdcb2" stroke="#a98050" stroke-width="0.55"/><ellipse cx="15.4" cy="35.7" rx="2.8" ry="1.7" transform="rotate(119 15.4 35.7)" fill="#e6cc98" stroke="#a98050" stroke-width="0.55"/><ellipse cx="31.0" cy="46.7" rx="2.6" ry="1.6" transform="rotate(36 31.0 46.7)" fill="#e6cc98" stroke="#a98050" stroke-width="0.55"/><ellipse cx="30.4" cy="43.3" rx="3.3" ry="2.0" transform="rotate(69 30.4 43.3)" fill="#f3e4c2" stroke="#a98050" stroke-width="0.55"/><ellipse cx="38.3" cy="24.0" rx="2.4" ry="1.5" transform="rotate(63 38.3 24.0)" fill="#ead4a6" stroke="#a98050" stroke-width="0.55"/><ellipse cx="54.6" cy="13.1" rx="2.3" ry="1.4" transform="rotate(148 54.6 13.1)" fill="#e6cc98" stroke="#a98050" stroke-width="0.55"/><ellipse cx="13.9" cy="30.1" rx="3.3" ry="2.1" transform="rotate(69 13.9 30.1)" fill="#ead4a6" stroke="#a98050" stroke-width="0.55"/><ellipse cx="35.0" cy="38.0" rx="3.1" ry="1.9" transform="rotate(58 35.0 38.0)" fill="#ead4a6" stroke="#a98050" stroke-width="0.55"/><ellipse cx="51.1" cy="22.5" rx="2.9" ry="1.8" transform="rotate(103 51.1 22.5)" fill="#e6cc98" stroke="#a98050" stroke-width="0.55"/><ellipse cx="24.1" cy="42.8" rx="2.2" ry="1.4" transform="rotate(73 24.1 42.8)" fill="#f3e4c2" stroke="#a98050" stroke-width="0.55"/><ellipse cx="17.9" cy="41.9" rx="2.5" ry="1.6" transform="rotate(143 17.9 41.9)" fill="#f3e4c2" stroke="#a98050" stroke-width="0.55"/><ellipse cx="59.2" cy="16.1" rx="2.3" ry="1.4" transform="rotate(173 59.2 16.1)" fill="#e6cc98" stroke="#a98050" stroke-width="0.55"/><ellipse cx="43.6" cy="19.4" rx="2.8" ry="1.7" transform="rotate(129 43.6 19.4)" fill="#f3e4c2" stroke="#a98050" stroke-width="0.55"/><ellipse cx="47.3" cy="32.6" rx="2.2" ry="1.4" transform="rotate(49 47.3 32.6)" fill="#f3e4c2" stroke="#a98050" stroke-width="0.55"/><ellipse cx="26.0" cy="39.0" rx="2.8" ry="1.8" transform="rotate(71 26.0 39.0)" fill="#f3e4c2" stroke="#a98050" stroke-width="0.55"/><ellipse cx="49.2" cy="47.3" rx="2.3" ry="1.4" transform="rotate(23 49.2 47.3)" fill="#ead4a6" stroke="#a98050" stroke-width="0.55"/><ellipse cx="31.6" cy="36.2" rx="3.3" ry="2.0" transform="rotate(99 31.6 36.2)" fill="#ead4a6" stroke="#a98050" stroke-width="0.55"/><ellipse cx="41.9" cy="31.4" rx="3.2" ry="2.0" transform="rotate(83 41.9 31.4)" fill="#e6cc98" stroke="#a98050" stroke-width="0.55"/><ellipse cx="41.9" cy="19.6" rx="3.1" ry="1.9" transform="rotate(38 41.9 19.6)" fill="#efdcb2" stroke="#a98050" stroke-width="0.55"/><ellipse cx="54.8" cy="50.2" rx="3.4" ry="2.1" transform="rotate(47 54.8 50.2)" fill="#e6cc98" stroke="#a98050" stroke-width="0.55"/><ellipse cx="45.3" cy="12.1" rx="2.8" ry="1.7" transform="rotate(79 45.3 12.1)" fill="#efdcb2" stroke="#a98050" stroke-width="0.55"/><ellipse cx="36.6" cy="41.8" rx="2.8" ry="1.7" transform="rotate(39 36.6 41.8)" fill="#efdcb2" stroke="#a98050" stroke-width="0.55"/><ellipse cx="53.1" cy="28.4" rx="2.2" ry="1.4" transform="rotate(124 53.1 28.4)" fill="#e6cc98" stroke="#a98050" stroke-width="0.55"/><ellipse cx="55.6" cy="30.1" rx="3.4" ry="2.1" transform="rotate(170 55.6 30.1)" fill="#ead4a6" stroke="#a98050" stroke-width="0.55"/><ellipse cx="33.6" cy="49.0" rx="2.3" ry="1.4" transform="rotate(79 33.6 49.0)" fill="#f3e4c2" stroke="#a98050" stroke-width="0.55"/><ellipse cx="37.1" cy="44.3" rx="2.9" ry="1.8" transform="rotate(94 37.1 44.3)" fill="#f3e4c2" stroke="#a98050" stroke-width="0.55"/><ellipse cx="51.9" cy="33.6" rx="2.6" ry="1.6" transform="rotate(172 51.9 33.6)" fill="#ead4a6" stroke="#a98050" stroke-width="0.55"/><ellipse cx="53.2" cy="35.6" rx="2.6" ry="1.6" transform="rotate(174 53.2 35.6)" fill="#f3e4c2" stroke="#a98050" stroke-width="0.55"/><ellipse cx="35.3" cy="34.1" rx="2.4" ry="1.5" transform="rotate(91 35.3 34.1)" fill="#efdcb2" stroke="#a98050" stroke-width="0.55"/><ellipse cx="39.5" cy="12.6" rx="3.4" ry="2.1" transform="rotate(98 39.5 12.6)" fill="#ead4a6" stroke="#a98050" stroke-width="0.55"/><ellipse cx="59.4" cy="16.3" rx="2.3" ry="1.4" transform="rotate(12 59.4 16.3)" fill="#f3e4c2" stroke="#a98050" stroke-width="0.55"/><ellipse cx="36.0" cy="27.8" rx="3.3" ry="2.1" transform="rotate(48 36.0 27.8)" fill="#ead4a6" stroke="#a98050" stroke-width="0.55"/><ellipse cx="32.6" cy="16.5" rx="2.7" ry="1.7" transform="rotate(94 32.6 16.5)" fill="#ead4a6" stroke="#a98050" stroke-width="0.55"/><ellipse cx="13.6" cy="28.1" rx="2.2" ry="1.4" transform="rotate(23 13.6 28.1)" fill="#e6cc98" stroke="#a98050" stroke-width="0.55"/><path d="M4,3 L10,14 L14,46" stroke="#ffffff" stroke-width="1.6" fill="none" opacity="0.55"/></g><path d="M33.2,14 L33.2,43.8 M33.2,14.6 L38.6,14.6 M33.2,21.4 L38.6,21.4 M33.2,28.7 L38.6,28.7 M33.2,36 L38.6,36 M33.2,43.2 L38.6,43.2" stroke="#4a3520" stroke-width="1.5" fill="none"/><path d="M0.6,0.9 L62.6,0.9 L61.2,12 L56.6,46 Q55.6,53 49,53 L20,53 Q13.2,53 12.3,46 L7.6,14.5 Q6.6,5.5 0.6,0.9 Z" fill="none" stroke="#2b2b2b" stroke-width="1.8" stroke-linejoin="round"/></g><g transform="translate(891.70,416.60) scale(1)"><defs><clipPath id="cc11"><path d="M3.2,2.4 L60.6,2.4 L59.2,12 L54.8,45.4 Q54,50.9 48.6,50.9 L20.4,50.9 Q15,50.9 14.2,45.4 L9.8,14.5 Q8.8,7 3.2,2.4 Z"/></clipPath></defs><path d="M60.5,1 L62.2,1.1 C63.2,1.4 63.3,3 64.3,3.4 C67.5,4 71.8,5.2 74,8.3 C75.6,10.6 76.1,13 76.3,15 L78.4,35.2 C78.6,37.6 77.3,38.9 75.4,38.9 C73.6,38.9 72.5,37.7 72.3,35.6 L69.5,14.6 C69.1,11.8 67.3,10.2 65,10.2 C62.8,10.2 61.6,11.8 61.3,13.3 Z" fill="#d6e5ef" stroke="#2b2b2b" stroke-width="1.7" stroke-linejoin="round"/><path d="M0.6,0.9 L62.6,0.9 L61.2,12 L56.6,46 Q55.6,53 49,53 L20,53 Q13.2,53 12.3,46 L7.6,14.5 Q6.6,5.5 0.6,0.9 Z" fill="#e0ebf3"/><path d="M62,2 L60.5,12 L56,46 L53,46 L57.5,12 L58.5,2 Z" fill="#c3d8e8" opacity="0.8"/><g clip-path="url(#cc11)"><path d="M0,60 L0,14 L70,14 L70,60 Z" fill="#d3e5f3"/><ellipse cx="34" cy="14.5" rx="26" ry="3.2" fill="#e3eef8" stroke="#6f8fb0" stroke-width="0.8"/><path d="M4,3 L10,14 L14,46" stroke="#ffffff" stroke-width="1.6" fill="none" opacity="0.55"/></g><path d="M33.2,14 L33.2,43.8 M33.2,14.6 L38.6,14.6 M33.2,21.4 L38.6,21.4 M33.2,28.7 L38.6,28.7 M33.2,36 L38.6,36 M33.2,43.2 L38.6,43.2" stroke="#2e2e2e" stroke-width="1.5" fill="none"/><path d="M0.6,0.9 L62.6,0.9 L61.2,12 L56.6,46 Q55.6,53 49,53 L20,53 Q13.2,53 12.3,46 L7.6,14.5 Q6.6,5.5 0.6,0.9 Z" fill="none" stroke="#2b2b2b" stroke-width="1.8" stroke-linejoin="round"/></g></svg>
<svg class="abs" width="1200" height="675" viewBox="0 0 1200 675">
<defs>
<linearGradient id="wg" gradientUnits="userSpaceOnUse" x1="54" y1="0" x2="1146" y2="0">
<stop offset="0" stop-color="#eef0f7" stop-opacity="0"/><stop offset="0.04" stop-color="#eceef7" stop-opacity="0.3"/><stop offset="0.08" stop-color="#dfe2f1"/><stop offset="0.15" stop-color="#d2d6ef"/><stop offset="0.23" stop-color="#aeb5e3"/>
<stop offset="0.40" stop-color="#8f98dc"/><stop offset="0.55" stop-color="#7880d2"/><stop offset="0.70" stop-color="#6e72ca"/>
<stop offset="0.87" stop-color="#765eb8"/><stop offset="1" stop-color="#7749a4"/></linearGradient>
<linearGradient id="ag" gradientUnits="userSpaceOnUse" x1="60" y1="0" x2="1146" y2="0">
<stop offset="0" stop-color="#eef0f7" stop-opacity="0"/><stop offset="0.1" stop-color="#e2e4f0"/><stop offset="0.4" stop-color="#8d94d6"/>
<stop offset="0.6" stop-color="#7f84d0"/><stop offset="1" stop-color="#7050a8"/></linearGradient>
</defs>
<polygon points="54.0,599.0 54.0,593.0 74.0,592.8 94.0,592.6 114.0,592.3 134.0,592.0 154.0,591.6 174.0,591.3 194.0,590.8 214.0,590.4 234.0,589.9 254.0,589.3 274.0,588.8 294.0,588.1 314.0,587.5 334.0,586.8 354.0,586.1 374.0,585.3 394.0,584.5 414.0,583.6 434.0,582.7 454.0,581.8 474.0,580.8 494.0,579.8 514.0,578.8 534.0,577.7 554.0,576.6 574.0,575.4 594.0,574.2 614.0,573.0 634.0,571.7 654.0,570.3 674.0,569.0 694.0,567.6 714.0,566.1 734.0,564.7 754.0,563.1 774.0,561.6 794.0,560.0 814.0,558.4 834.0,556.7 854.0,555.0 874.0,553.2 894.0,551.4 914.0,549.6 934.0,547.7 954.0,545.8 974.0,543.9 994.0,541.9 1014.0,539.8 1034.0,537.8 1054.0,535.7 1074.0,533.5 1094.0,531.3 1114.0,529.1 1134.0,526.9 1145.5,525.5 1145.5,599.0" fill="url(#wg)"/>
<rect x="97.5" y="582" width="37.5" height="17" fill="#f3f6f8"/><rect x="185.5" y="582" width="36" height="17" fill="#f3f6f8"/><rect x="271" y="582" width="36" height="17" fill="#f3f6f8"/>
<circle cx="496.4" cy="581" r="17.5" fill="#f3f6f8" fill-opacity="0.78"/><circle cx="562.7" cy="580.5" r="18" fill="#f3f6f8" fill-opacity="0.78"/><circle cx="616.2" cy="578.5" r="20.5" fill="#f3f6f8" fill-opacity="0.78"/><circle cx="669.6" cy="572.1" r="19.6" fill="#f3f6f8" fill-opacity="0.78"/><circle cx="728.6" cy="571" r="20.6" fill="#f3f6f8" fill-opacity="0.78"/><circle cx="793.3" cy="567.5" r="20.8" fill="#f3f6f8" fill-opacity="0.78"/>
<path d="M54 599.3 L1146 599.3" stroke="#3a3a48" stroke-width="1.8"/>
<path d="M66 632.7 L482 632.7 M718 632.7 L1134 632.7" stroke="url(#ag)" stroke-width="3.6"/>
<path d="M1132.3 625.6 L1145.5 632.5 L1132.3 639.6 Z" fill="#7050a8"/>
</svg>
<svg class="abs" width="1200" height="675" viewBox="0 0 1200 675"><g transform="translate(96.00,531.00) scale(1)"><path d="M2,17 C8,12 12,5 18,2 C21,0.8 24,1.5 27,4 C31,8 35,13 38,16.5 C30,18.5 10,18.5 2,17 Z" fill="#7a4a30" stroke="#3a2214" stroke-width="1"/><path d="M12,9 C15,5 19,3 22,3 C20,6 16,9 12,12 Z" fill="#8f5c3c"/><circle cx="0.8" cy="16" r="0.9" fill="#3a2214"/><circle cx="4" cy="18.5" r="0.9" fill="#3a2214"/><circle cx="37" cy="18.8" r="0.9" fill="#3a2214"/><circle cx="39.5" cy="16.5" r="0.9" fill="#3a2214"/><circle cx="7" cy="19" r="0.9" fill="#3a2214"/><circle cx="33" cy="19.2" r="0.9" fill="#3a2214"/></g><g transform="translate(186.00,521.00) scale(0.6)"><path d="M17,47 L16.5,51 C16.5,52.6 21,53.2 28,53.2 C35,53.2 39.5,52.6 39.5,51 L39,47 Z" fill="#dfe2e7" stroke="#2b2b2b" stroke-width="1.5"/><path d="M1,23 C1,39 12,49.5 28,49.5 C44,49.5 55,39 55,23 Z" fill="#e9ebef" stroke="#2b2b2b" stroke-width="1.8" stroke-linejoin="round"/><path d="M45,30 C43,40 37,46 28,48 C42,47.5 51,40 53,28 Z" fill="#c6cad3"/><ellipse cx="28" cy="23" rx="27" ry="9.2" fill="#d8dce3" stroke="#2b2b2b" stroke-width="1.8"/><ellipse cx="28" cy="23.8" rx="23.5" ry="7" fill="#e2c896"/><ellipse cx="32.9" cy="26.7" rx="1.4" ry="1.0" transform="rotate(35 32.9 26.7)" fill="#9a6a3a"/><ellipse cx="34.0" cy="28.4" rx="1.8" ry="1.2" transform="rotate(-10 34.0 28.4)" fill="#b07c45"/><ellipse cx="12.1" cy="21.2" rx="1.8" ry="0.9" transform="rotate(29 12.1 21.2)" fill="#f1e2bc"/><ellipse cx="23.6" cy="26.9" rx="1.5" ry="1.1" transform="rotate(-30 23.6 26.9)" fill="#b07c45"/><ellipse cx="16.4" cy="20.9" rx="2.3" ry="0.9" transform="rotate(37 16.4 20.9)" fill="#f1e2bc"/><ellipse cx="29.6" cy="26.0" rx="1.6" ry="1.3" transform="rotate(-24 29.6 26.0)" fill="#f1e2bc"/><ellipse cx="46.6" cy="22.7" rx="1.8" ry="0.9" transform="rotate(-28 46.6 22.7)" fill="#b07c45"/><ellipse cx="10.6" cy="21.8" rx="2.0" ry="1.1" transform="rotate(17 10.6 21.8)" fill="#9a6a3a"/><ellipse cx="10.6" cy="22.4" rx="1.9" ry="1.0" transform="rotate(-2 10.6 22.4)" fill="#c99a5e"/><ellipse cx="36.2" cy="19.1" rx="2.3" ry="1.0" transform="rotate(-8 36.2 19.1)" fill="#b07c45"/><ellipse cx="30.0" cy="23.1" rx="2.0" ry="0.8" transform="rotate(-36 30.0 23.1)" fill="#e8d09a"/><ellipse cx="15.2" cy="29.0" rx="1.5" ry="0.9" transform="rotate(26 15.2 29.0)" fill="#f1e2bc"/><ellipse cx="26.5" cy="24.1" rx="1.7" ry="1.0" transform="rotate(7 26.5 24.1)" fill="#9a6a3a"/><ellipse cx="39.2" cy="22.5" rx="1.4" ry="1.3" transform="rotate(-33 39.2 22.5)" fill="#c99a5e"/><ellipse cx="21.6" cy="25.2" rx="1.7" ry="1.3" transform="rotate(4 21.6 25.2)" fill="#f1e2bc"/><ellipse cx="20.5" cy="22.0" rx="2.2" ry="1.1" transform="rotate(18 20.5 22.0)" fill="#f1e2bc"/><ellipse cx="20.4" cy="23.8" rx="1.5" ry="1.1" transform="rotate(34 20.4 23.8)" fill="#b07c45"/><ellipse cx="9.3" cy="26.6" rx="2.2" ry="1.0" transform="rotate(-6 9.3 26.6)" fill="#c99a5e"/><ellipse cx="9.3" cy="23.9" rx="1.5" ry="1.2" transform="rotate(36 9.3 23.9)" fill="#f1e2bc"/><ellipse cx="33.2" cy="27.2" rx="1.6" ry="1.0" transform="rotate(-35 33.2 27.2)" fill="#b07c45"/><ellipse cx="24.8" cy="20.1" rx="2.3" ry="1.3" transform="rotate(-4 24.8 20.1)" fill="#9a6a3a"/><ellipse cx="27.5" cy="26.5" rx="1.7" ry="1.0" transform="rotate(32 27.5 26.5)" fill="#e8d09a"/><ellipse cx="12.5" cy="27.5" rx="2.4" ry="1.1" transform="rotate(-0 12.5 27.5)" fill="#9a6a3a"/><ellipse cx="21.5" cy="19.5" rx="1.9" ry="1.1" transform="rotate(0 21.5 19.5)" fill="#c99a5e"/><ellipse cx="10.5" cy="27.2" rx="2.1" ry="1.1" transform="rotate(21 10.5 27.2)" fill="#c99a5e"/><ellipse cx="22.5" cy="26.2" rx="2.2" ry="0.9" transform="rotate(38 22.5 26.2)" fill="#c99a5e"/><ellipse cx="36.6" cy="29.0" rx="2.0" ry="1.1" transform="rotate(-39 36.6 29.0)" fill="#c99a5e"/><ellipse cx="29.9" cy="21.3" rx="1.9" ry="1.2" transform="rotate(12 29.9 21.3)" fill="#c99a5e"/><ellipse cx="39.9" cy="22.3" rx="2.1" ry="1.2" transform="rotate(-12 39.9 22.3)" fill="#c99a5e"/><ellipse cx="41.7" cy="28.1" rx="2.4" ry="1.3" transform="rotate(1 41.7 28.1)" fill="#e8d09a"/><ellipse cx="29.2" cy="20.3" rx="2.3" ry="1.0" transform="rotate(15 29.2 20.3)" fill="#c99a5e"/><ellipse cx="36.8" cy="26.5" rx="2.0" ry="1.3" transform="rotate(1 36.8 26.5)" fill="#f1e2bc"/><ellipse cx="45.5" cy="21.8" rx="2.2" ry="1.1" transform="rotate(18 45.5 21.8)" fill="#9a6a3a"/><ellipse cx="9.1" cy="20.3" rx="2.0" ry="0.9" transform="rotate(21 9.1 20.3)" fill="#e8d09a"/><ellipse cx="15.2" cy="26.4" rx="2.4" ry="0.9" transform="rotate(31 15.2 26.4)" fill="#e8d09a"/><ellipse cx="27.3" cy="24.5" rx="1.9" ry="1.0" transform="rotate(9 27.3 24.5)" fill="#e8d09a"/><ellipse cx="31.6" cy="21.1" rx="1.4" ry="1.0" transform="rotate(-18 31.6 21.1)" fill="#c99a5e"/><ellipse cx="24.4" cy="19.8" rx="1.8" ry="0.8" transform="rotate(9 24.4 19.8)" fill="#9a6a3a"/><ellipse cx="11.8" cy="24.5" rx="2.4" ry="0.9" transform="rotate(-12 11.8 24.5)" fill="#c99a5e"/><ellipse cx="13.2" cy="23.0" rx="2.0" ry="1.0" transform="rotate(-29 13.2 23.0)" fill="#9a6a3a"/><ellipse cx="31.8" cy="24.7" rx="2.4" ry="1.1" transform="rotate(-12 31.8 24.7)" fill="#f1e2bc"/><ellipse cx="12.3" cy="24.7" rx="1.9" ry="1.0" transform="rotate(30 12.3 24.7)" fill="#9a6a3a"/><ellipse cx="30.6" cy="23.2" rx="1.9" ry="1.0" transform="rotate(17 30.6 23.2)" fill="#f1e2bc"/><ellipse cx="23.4" cy="27.9" rx="2.0" ry="0.9" transform="rotate(38 23.4 27.9)" fill="#f1e2bc"/><ellipse cx="27.9" cy="23.1" rx="2.3" ry="1.0" transform="rotate(34 27.9 23.1)" fill="#c99a5e"/><ellipse cx="13.7" cy="18.8" rx="2.4" ry="0.9" transform="rotate(-37 13.7 18.8)" fill="#9a6a3a"/><ellipse cx="13.5" cy="22.8" rx="1.9" ry="0.9" transform="rotate(35 13.5 22.8)" fill="#e8d09a"/><ellipse cx="39.3" cy="21.2" rx="2.2" ry="1.2" transform="rotate(-17 39.3 21.2)" fill="#c99a5e"/><ellipse cx="27.7" cy="29.4" rx="2.0" ry="1.1" transform="rotate(19 27.7 29.4)" fill="#9a6a3a"/><ellipse cx="12.7" cy="26.9" rx="1.7" ry="1.2" transform="rotate(9 12.7 26.9)" fill="#c99a5e"/><ellipse cx="37.3" cy="18.8" rx="1.8" ry="1.2" transform="rotate(7 37.3 18.8)" fill="#c99a5e"/><path d="M54.5,2.5 L42,20" stroke="#2b2b2b" stroke-width="4.4" stroke-linecap="round"/><path d="M54.5,2.5 L42,20" stroke="#e3e6ea" stroke-width="2.2" stroke-linecap="round"/></g><g transform="translate(272.50,517.50) scale(0.61)"><path d="M6.5,28 C3.5,36 1.5,46 0.8,52.5 C0.3,58 2.5,60.8 7.5,60.8 L45.5,60.8 C50.5,60.8 52.7,58 52.2,52.5 C51.5,46 49.5,36 46.5,28 Z" fill="#b88a58" stroke="#4a2e18" stroke-width="1.6" stroke-linejoin="round"/><path d="M9,34 C7,42 5,50 4.5,56 L48.5,56 C48,50 46,42 44,34 Z" fill="#c49a68" opacity="0.55"/><path d="M4.5,21.5 C4.5,16.5 14,14 26.5,14 C39,14 48.5,16.5 48.5,21.5 L48.8,26.5 C48.8,30.5 39,32.5 26.5,32.5 C14,32.5 4.2,30.5 4.2,26.5 Z" fill="#c29462" stroke="#4a2e18" stroke-width="1.5" stroke-linejoin="round"/><ellipse cx="26.5" cy="21.2" rx="19" ry="4.6" fill="#7a5432"/><path d="M8,22.5 C11.5,14 18.5,8.5 25,8.5 C31.5,8.5 39,13 45,22.5 C38,26.5 15,26.5 8,22.5 Z" fill="#f7f5f0" stroke="#3a2a1a" stroke-width="1.2"/><path d="M15,19 C19,14 23,11.5 26,11.5 C24,15 20,18 15,21 Z" fill="#ffffff"/><path d="M10,23.5 C16,25.5 37,25.5 43,23.5" fill="none" stroke="#e2ddd0" stroke-width="1.2"/><path d="M48.5,2.5 L40.5,11.5" stroke="#4a2e18" stroke-width="4.6" stroke-linecap="round"/><path d="M48.5,2.5 L40.5,11.5" stroke="#c08a52" stroke-width="2.4" stroke-linecap="round"/><path d="M35,12.5 C37,10 40.5,9.5 43,11.5 C45,13.5 45,17 43,19.5 L40,22 C37,20 34,16 35,12.5 Z" fill="#c08a52" stroke="#4a2e18" stroke-width="1.3" stroke-linejoin="round"/><text x="26.5" y="47.8" font-family="Liberation Sans" font-weight="700" font-size="10.8" fill="#4a2a12" stroke="#4a2a12" stroke-width="0.3" text-anchor="middle" textLength="31" lengthAdjust="spacingAndGlyphs">FLOUR</text></g><g transform="translate(483.20,518.30) scale(1)"><path d="M1.6,12.5 C0,17.5 0.4,23.5 2.8,26.8 C5,30 9,31 15,31 C21,31 25,30 27.2,26.8 C29.6,23.5 30,17.5 28.4,12.5 Z" fill="#eef0f4" stroke="#2b2b2b" stroke-width="1.2" stroke-linejoin="round"/><path d="M22,16 C26,19 26,25 23,28.5 C26,27.5 28,24 27.6,19 C27.3,16.5 26,15 24,14.5 Z" fill="#c9cfd8"/><ellipse cx="15" cy="12.8" rx="13.6" ry="3.4" fill="#f6f7f9" stroke="#2b2b2b" stroke-width="1.1"/><path d="M3.5,12.8 C6.5,7 11,4.6 15,4.6 C19,4.6 23.5,7 26.5,12.8 C20,14.6 10,14.6 3.5,12.8 Z" fill="#fbfcfd" stroke="#2b2b2b" stroke-width="1"/><path d="M28.6,1.2 L19,9.5" stroke="#2b2b2b" stroke-width="2.8" stroke-linecap="round"/><path d="M28.6,1.2 L19,9.5" stroke="#e6e9ee" stroke-width="1.3" stroke-linecap="round"/></g><g transform="translate(552.20,517.20) scale(1)"><path d="M13,9 C15,7 19,8 19.5,11.5 C20,15 17,16.5 15.2,15.2 C13.8,14 14.6,11.8 16.2,12.2" fill="none" stroke="#3a3a3a" stroke-width="1.1"/><path d="M5,4.2 L13.2,4.2 L13.2,14 C17.5,16 20,19.5 20,24 C20,29.5 15.5,32.6 10,32.6 C4.5,32.6 0,29.5 0,24 C0,19.5 2.5,16 5,14 Z" fill="#edf0f3"/><path d="M2.2,17.5 C4,16 16,16 17.8,17.5 C19.5,19.5 20,22 20,24 C20,29.5 15.5,32.6 10,32.6 C4.5,32.6 0,29.5 0,24 C0,22 0.5,19.5 2.2,17.5 Z" fill="#f3c53a"/><path d="M3,24 C3,27 4.5,29.5 7,30.5" stroke="#fbe49a" stroke-width="1.1" fill="none"/><path d="M5,4.2 L13.2,4.2 L13.2,14 C17.5,16 20,19.5 20,24 C20,29.5 15.5,32.6 10,32.6 C4.5,32.6 0,29.5 0,24 C0,19.5 2.5,16 5,14 Z" fill="none" stroke="#3a3a3a" stroke-width="1.1" stroke-linejoin="round"/><path d="M5,6.5 C3.5,6.5 3,7.5 3.2,8.5 L5,8.8" fill="#edf0f3" stroke="#3a3a3a" stroke-width="0.9"/><rect x="6.2" y="0.7" width="6.6" height="4" rx="1" fill="#c08a58" stroke="#3a3a3a" stroke-width="0.9"/></g><g transform="translate(600.00,523.00) scale(1)"><path d="M0.6,11.5 C0.8,20 6,26.6 15.8,26.6 C25.6,26.6 30.8,20 31,11.5 Z" fill="#dde7f1" stroke="#3a3a3a" stroke-width="1.2" stroke-linejoin="round"/><path d="M25,16 C23,22 19.5,25 15.8,25.5 C23,25.5 28,21 29.5,15 Z" fill="#c3d0de"/><ellipse cx="15.8" cy="11.5" rx="15.2" ry="4.8" fill="#eef2f6" stroke="#3a3a3a" stroke-width="1.2"/><path d="M3,11.5 C6,6 11,0.6 15.8,0.6 C20.6,0.6 25.6,6 28.6,11.5 C24,14.2 8,14.2 3,11.5 Z" fill="#a06d40" stroke="#5a3a20" stroke-width="0.7"/><path d="M15.8,1 C18,4 20,8 19,13 C23,12.5 26,12 28.2,11.2 C25,6 20.5,1 15.8,1 Z" fill="#8a5a34" opacity="0.6"/></g><g transform="translate(649.30,520.70) scale(0.57)"><path d="M1.5,33.5 L38,16 L62,26 L25,48 C23,49 21,49 19.5,48 L2,37.5 C0.3,36.5 0.3,34.5 1.5,33.5 Z" fill="#e2e6ed" stroke="#2b2b2b" stroke-width="1.2" stroke-linejoin="round"/><path d="M26,48 C34,42 44,37 52,34 L54,37 C46,41 36,46 28,49 Z" fill="#cfd5dd" stroke="#2b2b2b" stroke-width="1.2" stroke-linejoin="round"/><path d="M52,35.5 L68.5,24" stroke="#2b2b2b" stroke-width="4.4" stroke-linecap="round"/><path d="M52,35.5 L68.5,24" stroke="#8a6a48" stroke-width="2.4" stroke-linecap="round"/><g stroke="#b8923e" stroke-width="0.9" stroke-linejoin="round"><path d="M19.7,13 L37.6,20 L37.6,34.5 L19.7,27.5 Z" fill="#f9e08a"/><path d="M37.6,20 L62.2,7.5 L62.2,21.5 L37.6,34.5 Z" fill="#f2cd52"/><path d="M19.7,13 L43.6,0.8 L62.2,7.5 L37.6,20 Z" fill="#fcebab"/></g><g stroke="#b8923e" stroke-width="0.9" stroke-linejoin="round"><path d="M6.2,26.5 L21.8,33 L21.8,40.5 L6.2,34 Z" fill="#f9e08a"/><path d="M21.8,33 L32.2,28 L32.2,35.5 L21.8,40.5 Z" fill="#f2cd52"/><path d="M6.2,26.5 L16.6,22 L32.2,28 L21.8,33 Z" fill="#fcebab"/></g></g><g transform="translate(715.00,517.00) scale(1)"><path d="M10.4,2.4 L22,2.4 L25.8,8.2 L25.8,31.6 L18.6,32.6 L7.2,32.6 L7.2,8 Z" fill="#f5f7f9" stroke="#3a3a3a" stroke-width="1.1" stroke-linejoin="round"/><path d="M18.6,8.2 L22,2.4 L25.8,8.2 L25.8,31.6 L18.6,32.6 Z" fill="#b2c8ec" stroke="#3a3a3a" stroke-width="1.1" stroke-linejoin="round"/><path d="M7.2,8 L18.6,8.2" fill="none" stroke="#3a3a3a" stroke-width="0.9"/><rect x="10.2" y="0.2" width="11.8" height="2.6" rx="0.8" fill="#eef1f4" stroke="#3a3a3a" stroke-width="1"/><path d="M0.6,17.2 L1.8,32 C2,33.2 11,33.2 11.2,32 L12.4,17.2 Z" fill="#eef1f5" stroke="#3a3a3a" stroke-width="1.1" stroke-linejoin="round"/><ellipse cx="6.5" cy="17.2" rx="5.9" ry="1.5" fill="#f6f7f9" stroke="#3a3a3a" stroke-width="1"/><path d="M2.6,20.5 L10.4,20.5" stroke="#9aa3ad" stroke-width="0.7"/></g><g transform="translate(780.30,518.50) scale(0.6)"><path d="M0.9,5.2 L5.6,49 C6,52.5 12,54 21.2,54 C30.4,54 36.4,52.5 36.8,49 L41.6,5.2 Z" fill="#e7eef5" stroke="#2b2b2b" stroke-width="1.8" stroke-linejoin="round"/><path d="M5.2,15.5 L8.8,48 C9,50.5 14,51.5 21.2,51.5 C28.4,51.5 33.4,50.5 33.6,48 L37.2,15.5 Z" fill="#aec5ea"/><ellipse cx="21.2" cy="15.5" rx="16" ry="3.6" fill="#cadbf3" stroke="#5a6a88" stroke-width="0.9"/><path d="M12,14 L12,40" stroke="#ffffff" stroke-width="2" opacity="0.75"/><circle cx="26" cy="28" r="0.9" fill="#fff" opacity="0.8"/><circle cx="30" cy="36" r="0.8" fill="#fff" opacity="0.8"/><circle cx="22" cy="40" r="0.9" fill="#fff" opacity="0.8"/><ellipse cx="21.2" cy="5.2" rx="20.4" ry="4.6" fill="#dfe8f0" stroke="#2b2b2b" stroke-width="1.8"/></g><g transform="translate(1072.40,507.60) scale(0.63)"><path d="M4,18.6 L35,18.6 L35,25 C38,30 38.5,37 37.5,44.5 C36,53 30,57 19.5,57 C9,57 3,53 1.5,44.5 C0.5,37 1,30 4,25 Z" fill="#ffffff" stroke="#ffffff" stroke-width="5" stroke-linejoin="round"/></g><g transform="translate(1072.40,507.60) scale(0.63)"><path d="M5.5,24 C1.5,29 0.5,37 1.5,44.5 C3,53 9,57 19.5,57 C30,57 36,53 37.5,44.5 C38.5,37 37.5,29 33.5,24 Z" fill="#eef1f5" stroke="#2b2b2b" stroke-width="1.8" stroke-linejoin="round"/><path d="M3,30.5 C12,28 27,28 36,30.5 C37,37 36.8,43 35.6,47.5 C33.5,53 27.5,55.2 19.5,55.2 C11.5,55.2 5.5,53 3.4,47.5 C2.2,43 2,37 3,30.5 Z" fill="#f4a823"/><path d="M3,30.5 C12,28 27,28 36,30.5 C27,33 12,33 3,30.5 Z" fill="#f9c65a"/><path d="M6,47 C11,53 28,53 33,47 C31.5,52.5 26,55 19.5,55 C13,55 7.5,52.5 6,47 Z" fill="#e0860e" opacity="0.85"/><path d="M5.5,35 C5,39 5.5,44 7.5,48" stroke="#fdd98a" stroke-width="1.6" fill="none"/><path d="M5.5,24 C1.5,29 0.5,37 1.5,44.5 C3,53 9,57 19.5,57 C30,57 36,53 37.5,44.5 C38.5,37 37.5,29 33.5,24 Z" fill="none" stroke="#2b2b2b" stroke-width="1.8" stroke-linejoin="round"/><rect x="4" y="18.6" width="31" height="6.8" rx="3" fill="#e4eaf0" stroke="#2b2b2b" stroke-width="1.6"/><path d="M27,9.5 L49.5,2.2" stroke="#2b2b2b" stroke-width="4" stroke-linecap="round"/><path d="M27,9.5 L49.5,2.2" stroke="#b8804a" stroke-width="2" stroke-linecap="round"/><path d="M18.5,14 L18.5,31.5" stroke="#eda024" stroke-width="3" stroke-linecap="round"/><ellipse cx="19.8" cy="10" rx="8.4" ry="6.5" transform="rotate(-18 19.8 10)" fill="#a86a3a" stroke="#2b2b2b" stroke-width="1.5"/><path d="M12.5,8.5 C15,6 22,4.5 26.5,5.5 M12,12 C15,9.5 23,8 27.5,9 M13.5,15 C16,13 23,11.5 26.5,12.5" stroke="#6a3e1e" stroke-width="1" fill="none"/></g></svg>
<svg class="abs" width="1200" height="675" viewBox="0 0 1200 675"><defs><linearGradient id="vg" x1="0" y1="0.2" x2="1" y2="0.8"><stop offset="0" stop-color="#6a7ad2"/><stop offset="0.5" stop-color="#7158b6"/><stop offset="1" stop-color="#7b44a8"/></linearGradient></defs><text x="462.8" y="246.8" font-family="Liberation Sans" font-weight="700" font-size="46" textLength="115.5" lengthAdjust="spacingAndGlyphs" fill="url(#vg)" stroke="url(#vg)" stroke-width="1.1">125 g</text><text x="462.8" y="317.8" font-family="Liberation Sans" font-weight="700" font-size="46" textLength="115.5" lengthAdjust="spacingAndGlyphs" fill="url(#vg)" stroke="url(#vg)" stroke-width="1.1">200 g</text><text x="462.8" y="388.8" font-family="Liberation Sans" font-weight="700" font-size="46" textLength="115.5" lengthAdjust="spacingAndGlyphs" fill="url(#vg)" stroke="url(#vg)" stroke-width="1.1">227 g</text><text x="462.8" y="459.8" font-family="Liberation Sans" font-weight="700" font-size="46" textLength="115.5" lengthAdjust="spacingAndGlyphs" fill="url(#vg)" stroke="url(#vg)" stroke-width="1.1">220 g</text><text x="1033.0" y="164.3" font-family="Liberation Sans" font-weight="700" font-size="46" textLength="115" lengthAdjust="spacingAndGlyphs" fill="url(#vg)" stroke="url(#vg)" stroke-width="1.1">218 g</text><text x="1033.0" y="245.3" font-family="Liberation Sans" font-weight="700" font-size="46" textLength="115" lengthAdjust="spacingAndGlyphs" fill="url(#vg)" stroke="url(#vg)" stroke-width="1.1">340 g</text><text x="1033.0" y="316.3" font-family="Liberation Sans" font-weight="700" font-size="46" textLength="115" lengthAdjust="spacingAndGlyphs" fill="url(#vg)" stroke="url(#vg)" stroke-width="1.1">100 g</text><text x="1033.0" y="387.3" font-family="Liberation Sans" font-weight="700" font-size="46" textLength="115" lengthAdjust="spacingAndGlyphs" fill="url(#vg)" stroke="url(#vg)" stroke-width="1.1">100 g</text><text x="1033.0" y="458.3" font-family="Liberation Sans" font-weight="700" font-size="46" textLength="115" lengthAdjust="spacingAndGlyphs" fill="url(#vg)" stroke="url(#vg)" stroke-width="1.1">240 g</text></svg>
<div class='t' style='left:376.50px;top:21.35px;font-size:19.5px;font-weight:400;color:#1a1a1a;transform:scaleX(0.9554);'>Mastering Measurements: Volume to Weight Accuracy</div>
<div class='t' style='left:180.30px;top:43.66px;font-size:37.5px;font-weight:700;color:#0c0c0c;transform:scaleX(1.0291);-webkit-text-stroke:1.0px #0c0c0c;'>Ingredient-Specific Cup-to-Gram Conversions</div>
<div class='t' style='left:87.50px;top:118.10px;font-size:20px;font-weight:400;color:#161616;transform:scaleX(0.9582);'><b>NOTE:</b> 1 cup ≠ same grams for all ingredients.</div>
<div class='t' style='left:87.50px;top:140.10px;font-size:20px;font-weight:400;color:#161616;transform:scaleX(0.9607);'>Density varies!</div>
<div class='t' style='left:475.00px;top:173.27px;font-size:16px;font-weight:700;color:#141414;transform:scaleX(0.9166);-webkit-text-stroke:0.35px #141414;'>Gram Weight</div>
<div class='t' style='left:1045.00px;top:93.22px;font-size:16px;font-weight:700;color:#141414;transform:scaleX(0.9216);-webkit-text-stroke:0.35px #141414;'>Gram Weight</div>
<div class='t' style='left:126.00px;top:207.81px;font-size:19px;font-weight:700;color:#121212;transform:scaleX(0.9600);-webkit-text-stroke:0.5px #121212;'>All-Purpose</div>
<div class='t' style='left:126.00px;top:228.81px;font-size:19px;font-weight:700;color:#121212;transform:scaleX(0.9600);-webkit-text-stroke:0.5px #121212;'>Flour</div>
<div class='t' style='left:272.00px;top:219.65px;font-size:16.3px;font-weight:400;color:#161616;transform:scaleX(0.9090);-webkit-text-stroke:0.3px #161616;'>1 Cup</div>
<div class='t' style='left:126.00px;top:278.81px;font-size:19px;font-weight:700;color:#121212;transform:scaleX(0.9600);-webkit-text-stroke:0.5px #121212;'>Granulated</div>
<div class='t' style='left:126.00px;top:299.81px;font-size:19px;font-weight:700;color:#121212;transform:scaleX(0.9600);-webkit-text-stroke:0.5px #121212;'>Sugar</div>
<div class='t' style='left:272.00px;top:290.65px;font-size:16.3px;font-weight:400;color:#161616;transform:scaleX(0.9090);-webkit-text-stroke:0.3px #161616;'>1 Cup</div>
<div class='t' style='left:126.00px;top:349.81px;font-size:19px;font-weight:700;color:#121212;transform:scaleX(0.9600);-webkit-text-stroke:0.5px #121212;'>Unsalted</div>
<div class='t' style='left:126.00px;top:370.81px;font-size:19px;font-weight:700;color:#121212;transform:scaleX(0.9600);-webkit-text-stroke:0.5px #121212;'>Butter</div>
<div class='t' style='left:272.00px;top:361.65px;font-size:16.3px;font-weight:400;color:#161616;transform:scaleX(0.9090);-webkit-text-stroke:0.3px #161616;'>1 Cup</div>
<div class='t' style='left:126.00px;top:420.81px;font-size:19px;font-weight:700;color:#121212;transform:scaleX(0.9600);-webkit-text-stroke:0.5px #121212;'>Packed</div>
<div class='t' style='left:126.00px;top:441.81px;font-size:19px;font-weight:700;color:#121212;transform:scaleX(0.9600);-webkit-text-stroke:0.5px #121212;'>Brown Sugar</div>
<div class='t' style='left:272.00px;top:432.65px;font-size:16.3px;font-weight:400;color:#161616;transform:scaleX(0.9090);-webkit-text-stroke:0.3px #161616;'>1 Cup</div>
<div class='t' style='left:695.50px;top:138.61px;font-size:19px;font-weight:700;color:#121212;transform:scaleX(0.9700);-webkit-text-stroke:0.5px #121212;'>Vegetable Oil</div>
<div class='t' style='left:842.50px;top:139.85px;font-size:16.3px;font-weight:400;color:#161616;transform:scaleX(0.9090);-webkit-text-stroke:0.3px #161616;'>1 Cup</div>
<div class='t' style='left:695.50px;top:219.61px;font-size:19px;font-weight:700;color:#121212;transform:scaleX(0.9700);-webkit-text-stroke:0.5px #121212;'>Honey</div>
<div class='t' style='left:842.50px;top:219.65px;font-size:16.3px;font-weight:400;color:#161616;transform:scaleX(0.9090);-webkit-text-stroke:0.3px #161616;'>1 Cup</div>
<div class='t' style='left:695.50px;top:290.61px;font-size:19px;font-weight:700;color:#121212;transform:scaleX(0.9700);-webkit-text-stroke:0.5px #121212;'>Cocoa Powder</div>
<div class='t' style='left:842.50px;top:290.65px;font-size:16.3px;font-weight:400;color:#161616;transform:scaleX(0.9090);-webkit-text-stroke:0.3px #161616;'>1 Cup</div>
<div class='t' style='left:695.50px;top:361.61px;font-size:19px;font-weight:700;color:#121212;transform:scaleX(0.9700);-webkit-text-stroke:0.5px #121212;'>Rolled Oats</div>
<div class='t' style='left:842.50px;top:361.65px;font-size:16.3px;font-weight:400;color:#161616;transform:scaleX(0.9090);-webkit-text-stroke:0.3px #161616;'>1 Cup</div>
<div class='t' style='left:695.50px;top:432.61px;font-size:19px;font-weight:700;color:#121212;transform:scaleX(0.9700);-webkit-text-stroke:0.5px #121212;'>Water</div>
<div class='t' style='left:842.50px;top:432.65px;font-size:16.3px;font-weight:400;color:#161616;transform:scaleX(0.9090);-webkit-text-stroke:0.3px #161616;'>1 Cup</div>
<div class='t' style='left:97.72px;top:555.24px;font-size:13px;font-weight:700;color:#141414;transform:scaleX(0.9300);-webkit-text-stroke:0.4px #141414;'>Cocoa</div>
<div class='t' style='left:94.36px;top:568.74px;font-size:13px;font-weight:700;color:#141414;transform:scaleX(0.9300);-webkit-text-stroke:0.4px #141414;'>Powder</div>
<div class='t' style='left:102.42px;top:582.24px;font-size:13px;font-weight:700;color:#141414;transform:scaleX(0.9300);-webkit-text-stroke:0.4px #141414;'>100g</div>
<div class='t' style='left:184.72px;top:555.24px;font-size:13px;font-weight:700;color:#141414;transform:scaleX(0.9300);-webkit-text-stroke:0.4px #141414;'>Rolled</div>
<div class='t' style='left:189.76px;top:568.74px;font-size:13px;font-weight:700;color:#141414;transform:scaleX(0.9300);-webkit-text-stroke:0.4px #141414;'>Oats</div>
<div class='t' style='left:189.42px;top:582.24px;font-size:13px;font-weight:700;color:#141414;transform:scaleX(0.9300);-webkit-text-stroke:0.4px #141414;'>100g</div>
<div class='t' style='left:255.07px;top:555.24px;font-size:13px;font-weight:700;color:#141414;transform:scaleX(0.9300);-webkit-text-stroke:0.4px #141414;'>All-Purpose</div>
<div class='t' style='left:273.89px;top:568.74px;font-size:13px;font-weight:700;color:#141414;transform:scaleX(0.9300);-webkit-text-stroke:0.4px #141414;'>Flour</div>
<div class='t' style='left:275.22px;top:582.24px;font-size:13px;font-weight:700;color:#141414;transform:scaleX(0.9300);-webkit-text-stroke:0.4px #141414;'>125g</div>
<div class='t' style='left:464.89px;top:550.24px;font-size:13px;font-weight:700;color:#141414;transform:scaleX(0.9300);-webkit-text-stroke:0.4px #141414;'>Granulated</div>
<div class='t' style='left:479.67px;top:563.94px;font-size:13px;font-weight:700;color:#141414;transform:scaleX(0.9300);-webkit-text-stroke:0.4px #141414;'>Sugar</div>
<div class='t' style='left:483.02px;top:577.63px;font-size:13px;font-weight:700;color:#141414;transform:scaleX(0.9300);-webkit-text-stroke:0.4px #141414;'>200g</div>
<div class='t' style='left:534.37px;top:550.24px;font-size:13px;font-weight:700;color:#141414;transform:scaleX(0.9300);-webkit-text-stroke:0.4px #141414;'>Vegetable</div>
<div class='t' style='left:554.54px;top:563.94px;font-size:13px;font-weight:700;color:#141414;transform:scaleX(0.9300);-webkit-text-stroke:0.4px #141414;'>Oil</div>
<div class='t' style='left:548.82px;top:577.63px;font-size:13px;font-weight:700;color:#141414;transform:scaleX(0.9300);-webkit-text-stroke:0.4px #141414;'>200g</div>
<div class='t' style='left:597.39px;top:550.24px;font-size:13px;font-weight:700;color:#141414;transform:scaleX(0.9300);-webkit-text-stroke:0.4px #141414;'>Brown</div>
<div class='t' style='left:599.07px;top:563.94px;font-size:13px;font-weight:700;color:#141414;transform:scaleX(0.9300);-webkit-text-stroke:0.4px #141414;'>Sugar</div>
<div class='t' style='left:602.42px;top:577.63px;font-size:13px;font-weight:700;color:#141414;transform:scaleX(0.9300);-webkit-text-stroke:0.4px #141414;'>200g</div>
<div class='t' style='left:651.70px;top:551.53px;font-size:13px;font-weight:700;color:#141414;transform:scaleX(0.9300);-webkit-text-stroke:0.4px #141414;'>Butter</div>
<div class='t' style='left:655.72px;top:565.24px;font-size:13px;font-weight:700;color:#141414;transform:scaleX(0.9300);-webkit-text-stroke:0.4px #141414;'>220g</div>
<div class='t' style='left:716.54px;top:551.53px;font-size:13px;font-weight:700;color:#141414;transform:scaleX(0.9300);-webkit-text-stroke:0.4px #141414;'>Milk</div>
<div class='t' style='left:714.52px;top:565.24px;font-size:13px;font-weight:700;color:#141414;transform:scaleX(0.9300);-webkit-text-stroke:0.4px #141414;'>240g</div>
<div class='t' style='left:776.93px;top:551.53px;font-size:13px;font-weight:700;color:#141414;transform:scaleX(0.9300);-webkit-text-stroke:0.4px #141414;'>Water</div>
<div class='t' style='left:779.72px;top:565.24px;font-size:13px;font-weight:700;color:#141414;transform:scaleX(0.9300);-webkit-text-stroke:0.4px #141414;'>240g</div>
<div class='t' style='left:1066.43px;top:543.78px;font-size:13.5px;font-weight:700;color:#f8f6fc;transform:scaleX(0.9000);'>Honey</div>
<div class='t' style='left:1071.15px;top:557.08px;font-size:13.5px;font-weight:700;color:#f8f6fc;transform:scaleX(0.9000);'>340g</div>
<div class='t' style='left:286.00px;top:487.40px;font-size:20px;font-weight:700;color:#141414;transform:scaleX(0.9819);-webkit-text-stroke:0.45px #141414;'>Understanding Density:</div>
<div class='t' style='left:512.80px;top:487.40px;font-size:20px;font-weight:400;color:#141414;transform:scaleX(0.9560);'>Why Weights Vary in the Same Volume (1 Cup)</div>
<div class='t' style='left:54.00px;top:604.42px;font-size:15px;font-weight:700;color:#141414;transform:scaleX(0.9439);-webkit-text-stroke:0.35px #141414;'>Lighter Density / Less Weight</div>
<div class='t' style='left:545.75px;top:603.62px;font-size:15px;font-weight:700;color:#141414;transform:scaleX(0.9432);-webkit-text-stroke:0.35px #141414;'>Medium Density</div>
<div class='t' style='left:941.50px;top:603.82px;font-size:15px;font-weight:700;color:#141414;transform:scaleX(0.9521);-webkit-text-stroke:0.35px #141414;'>Heavier Density / More Weight</div>
<div class='t' style='left:489.50px;top:623.62px;font-size:16px;font-weight:700;color:#141414;transform:scaleX(0.9500);-webkit-text-stroke:0.35px #141414;'>Increasing Density and Weight</div>
<div class='t' style='left:296.20px;top:654.43px;font-size:14px;font-weight:400;color:#161616;transform:scaleX(0.9726);'>Accurate measurements are key to successful baking and cooking. Use a kitchen scale for precision.</div>
</body></html>
